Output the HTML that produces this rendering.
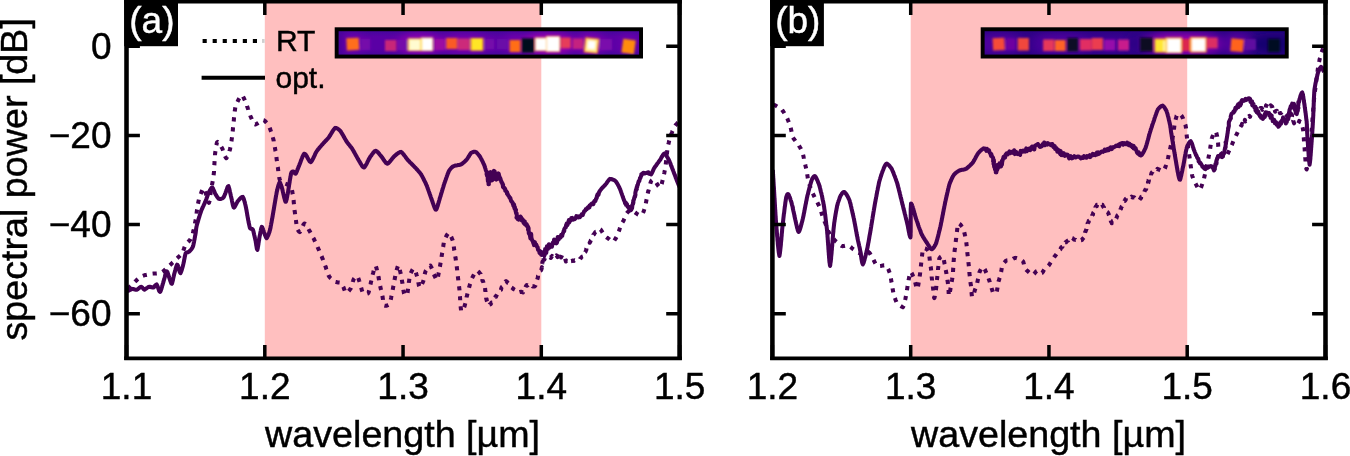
<!DOCTYPE html>
<html><head><meta charset="utf-8"><title>fig</title>
<style>
html,body{margin:0;padding:0;background:#fff;}
body{width:1350px;height:456px;overflow:hidden;font-family:"Liberation Sans",sans-serif;}
svg{display:block;will-change:transform}
text{font-family:"Liberation Sans",sans-serif;fill:#000;stroke:#000;stroke-width:0.45px}
</style></head><body>
<svg width="1350" height="456" viewBox="0 0 1350 456">
<defs>
<filter id="bl1" x="-5%" y="-50%" width="110%" height="200%"><feGaussianBlur stdDeviation="1.25"/></filter>
<filter id="bl3" x="-20%" y="-100%" width="140%" height="300%"><feGaussianBlur stdDeviation="4"/></filter>
<linearGradient id="bgA" x1="0" y1="0" x2="0" y2="1"><stop offset="0" stop-color="#3a0a96"/><stop offset="0.3" stop-color="#5a00a5"/><stop offset="0.7" stop-color="#5a00a5"/><stop offset="1" stop-color="#3a0a96"/></linearGradient>
<linearGradient id="bgB" x1="0" y1="0" x2="0" y2="1"><stop offset="0" stop-color="#24037c"/><stop offset="0.35" stop-color="#3a0093"/><stop offset="0.7" stop-color="#3a0093"/><stop offset="1" stop-color="#24037c"/></linearGradient>
</defs>
<rect width="1350" height="456" fill="#fff"/>

<rect x="264.8" y="1" width="276.49999999999994" height="357.5" fill="#ffbfbf"/>
<path d="M202.6,40.9 H261" stroke="#000" stroke-width="4.05" stroke-dasharray="4.15 5.9" fill="none"/>
<rect x="262" y="39" width="2.6" height="3.9" fill="#d0d0d0"/>
<path d="M201.6,77.7 H265" stroke="#000" stroke-width="4.05" fill="none"/>
<text x="276" y="51.3" font-size="30">RT</text>
<text x="275.5" y="87.6" font-size="30">opt.</text>
<clipPath id="axA"><rect x="126.5" y="1" width="553.1" height="357"/></clipPath>
<g clip-path="url(#axA)" fill="none" stroke="#440154" stroke-width="4.05" stroke-linejoin="round">
<path d="M127.8,288.9 L128.4,288.3 L129.1,287.6 L129.7,287.0 L130.3,286.3 L130.9,285.7 L131.6,285.0 L132.2,284.4 L132.8,283.7 L133.5,283.1 L134.1,282.5 L134.8,281.9 L135.4,281.3 L136.1,280.7 L136.8,280.0 L137.4,279.4 L138.1,278.8 L138.8,278.3 L139.5,277.7 L140.2,277.1 L141.0,276.6 L141.7,276.2 L142.6,275.9 L143.4,275.6 L144.3,275.3 L145.2,275.1 L146.0,274.9 L146.9,274.7 L147.8,274.5 L148.7,274.3 L149.6,274.1 L150.4,273.9 L151.3,273.8 L152.2,273.7 L153.1,273.6 L154.0,273.5 L154.9,273.5 L155.8,273.4 L156.7,273.4 L157.6,273.3 L158.5,273.2 L159.4,273.1 L160.3,272.9 L161.1,272.7 L161.9,272.2 L162.7,271.7 L163.4,271.1 L164.1,270.6 L164.7,270.0 L165.4,269.4 L166.1,268.8 L166.7,268.2 L167.4,267.5 L168.1,266.9 L168.7,266.3 L169.4,265.7 L170.1,265.1 L170.7,264.5 L171.4,263.9 L172.0,263.2 L172.6,262.6 L173.3,262.0 L173.9,261.3 L174.6,260.7 L175.2,260.1 L175.9,259.4 L176.5,258.8 L177.2,258.2 L177.8,257.6 L178.5,257.0 L179.2,256.4 L179.9,255.8 L180.5,255.2 L181.1,254.5 L181.7,253.9 L182.3,253.1 L182.6,252.3 L183.0,251.5 L183.3,250.7 L183.6,249.8 L183.9,249.0 L184.2,248.1 L184.5,247.2 L184.8,246.4 L185.1,245.6 L185.5,244.7 L185.9,244.0 L186.5,243.3 L187.2,242.7 L187.9,242.1 L188.5,241.5 L189.2,240.9 L189.8,240.2 L190.3,239.5 L190.7,238.7 L191.1,237.9 L191.5,237.0 L191.8,236.2 L192.2,235.4 L192.5,234.5 L192.8,233.7 L193.0,232.8 L193.2,231.9 L193.4,231.1 L193.6,230.2 L193.8,229.3 L194.0,228.4 L194.2,227.5 L194.4,226.7 L194.5,225.8 L194.7,224.9 L194.9,224.0 L195.0,223.1 L195.2,222.2 L195.4,221.3 L195.5,220.5 L195.7,219.6 L195.9,218.7 L196.0,217.8 L196.2,216.9 L196.3,216.0 L196.4,215.1 L196.5,214.2 L196.6,213.3 L196.7,212.4 L196.8,211.5 L196.9,210.7 L197.0,209.8 L197.2,208.9 L197.3,208.0 L197.4,207.1 L197.6,206.2 L197.7,205.3 L197.9,204.4 L198.1,203.5 L198.2,202.7 L198.4,201.8 L198.6,200.9 L198.8,200.0 L199.0,199.1 L199.2,198.3 L199.4,197.4 L199.7,196.5 L200.0,195.7 L200.4,194.8 L200.7,194.0 L201.0,193.2 L201.3,192.3 L201.7,191.5 L202.0,190.7 L202.4,189.8 L202.8,189.0 L203.3,188.3 L203.9,188.8 L204.3,189.6 L204.7,190.4 L205.0,191.2 L205.3,192.1 L205.6,192.9 L205.9,193.8 L206.2,194.6 L206.5,195.5 L206.7,196.3 L207.0,197.2 L207.2,198.1 L207.5,198.9 L207.7,199.8 L208.0,200.7 L208.3,201.5 L208.6,202.3 L209.0,202.9 L209.2,202.0 L209.5,201.1 L209.6,200.2 L209.7,199.3 L209.9,198.4 L210.0,197.5 L210.1,196.7 L210.2,195.8 L210.3,194.9 L210.5,194.0 L210.6,193.1 L210.7,192.2 L210.8,191.3 L210.9,190.4 L211.1,189.5 L211.3,188.6 L211.4,187.7 L211.6,186.9 L211.8,186.0 L212.0,185.1 L212.1,184.2 L212.3,183.3 L212.5,182.4 L212.6,181.6 L212.8,180.7 L212.9,179.8 L213.1,178.9 L213.2,178.0 L213.4,177.1 L213.5,176.2 L213.6,175.3 L213.7,174.4 L213.8,173.5 L213.9,172.6 L214.0,171.7 L214.0,170.8 L214.1,169.9 L214.1,169.0 L214.2,168.1 L214.2,167.2 L214.3,166.3 L214.3,165.4 L214.4,164.5 L214.4,163.6 L214.5,162.7 L214.5,161.9 L214.6,161.0 L214.7,160.1 L214.7,159.2 L214.8,158.3 L214.8,157.4 L214.9,156.5 L215.0,155.6 L215.0,154.7 L215.1,153.8 L215.2,152.9 L215.3,152.0 L215.5,151.1 L215.6,150.2 L215.7,149.3 L215.8,148.4 L216.0,147.5 L216.1,146.6 L216.2,145.7 L216.4,144.9 L216.6,144.0 L216.8,143.1 L217.1,142.2 L217.6,141.9 L218.3,142.4 L218.9,143.1 L219.4,143.8 L219.9,144.6 L220.4,145.3 L220.9,146.1 L221.3,146.9 L221.8,147.6 L222.2,148.4 L222.6,149.2 L222.9,150.1 L223.2,150.9 L223.5,151.8 L223.8,152.6 L224.1,153.5 L224.4,154.3 L224.7,155.2 L225.0,156.0 L225.4,156.9 L225.8,157.6 L226.3,158.2 L226.8,157.5 L227.3,156.7 L227.7,155.9 L228.0,155.1 L228.3,154.2 L228.7,153.4 L229.0,152.5 L229.3,151.7 L229.5,150.8 L229.8,150.0 L230.1,149.1 L230.2,148.2 L230.4,147.3 L230.6,146.5 L230.7,145.6 L230.9,144.7 L231.0,143.8 L231.2,142.9 L231.3,142.0 L231.5,141.1 L231.6,140.2 L231.7,139.3 L231.8,138.4 L232.0,137.6 L232.1,136.7 L232.2,135.8 L232.3,134.9 L232.4,134.0 L232.5,133.1 L232.6,132.2 L232.7,131.3 L232.8,130.4 L232.9,129.5 L232.9,128.6 L233.0,127.7 L233.1,126.8 L233.2,125.9 L233.3,125.0 L233.4,124.1 L233.5,123.2 L233.6,122.3 L233.7,121.4 L233.8,120.5 L233.9,119.6 L233.9,118.7 L234.0,117.8 L234.1,116.9 L234.2,116.1 L234.3,115.2 L234.4,114.3 L234.5,113.4 L234.6,112.5 L234.7,111.6 L234.8,110.7 L235.0,109.8 L235.1,108.9 L235.2,108.0 L235.4,107.1 L235.6,106.2 L235.8,105.4 L236.2,104.6 L236.5,103.7 L236.9,102.9 L237.3,102.1 L237.7,101.3 L238.1,100.5 L238.5,99.7 L238.9,98.9 L239.4,98.1 L239.9,97.4 L240.4,96.6 L240.9,95.9 L241.6,95.3 L242.2,95.4 L242.8,96.1 L243.2,96.9 L243.6,97.7 L244.0,98.5 L244.4,99.3 L244.7,100.1 L245.1,101.0 L245.4,101.8 L245.7,102.6 L246.1,103.5 L246.4,104.3 L246.8,105.1 L247.0,106.0 L247.3,106.8 L247.6,107.7 L247.9,108.6 L248.2,109.4 L248.4,110.3 L248.7,111.1 L249.0,112.0 L249.2,112.9 L249.5,113.7 L249.8,114.6 L250.2,115.4 L250.5,116.2 L250.9,117.1 L251.2,117.9 L251.6,118.7 L251.9,119.5 L252.3,120.4 L252.7,121.2 L253.1,122.0 L253.5,122.8 L254.0,123.5 L254.6,124.2 L255.3,124.5 L256.1,124.2 L256.9,123.8 L257.7,123.3 L258.5,122.8 L259.2,122.3 L259.9,121.8 L260.6,121.3 L261.4,120.8 L262.2,120.4 L263.0,120.0 L263.8,120.2 L264.6,120.7 L265.2,121.3 L265.9,122.0 L266.4,122.7 L267.0,123.4 L267.5,124.1 L268.0,124.8 L268.5,125.6 L269.0,126.3 L269.4,127.2 L269.7,128.0 L270.1,128.8 L270.4,129.7 L270.7,130.5 L271.0,131.4 L271.3,132.2 L271.6,133.1 L271.9,133.9 L272.2,134.8 L272.4,135.6 L272.7,136.5 L272.9,137.4 L273.1,138.2 L273.3,139.1 L273.5,140.0 L273.7,140.9 L273.8,141.8 L274.0,142.7 L274.2,143.5 L274.3,144.4 L274.5,145.3 L274.7,146.2 L274.8,147.1 L275.0,148.0 L275.1,148.9 L275.3,149.8 L275.4,150.6 L275.6,151.5 L275.7,152.4 L275.8,153.3 L276.0,154.2 L276.1,155.1 L276.2,156.0 L276.4,156.9 L276.5,157.8 L276.6,158.7 L276.7,159.6 L276.8,160.4 L277.0,161.3 L277.1,162.2 L277.2,163.1 L277.3,164.0 L277.5,164.9 L277.6,165.8 L277.7,166.7 L277.9,167.6 L278.0,168.5 L278.1,169.4 L278.2,170.3 L278.3,171.2 L278.5,172.0 L278.6,172.9 L278.7,173.8 L278.8,174.7 L278.9,175.6 L279.1,176.5 L279.2,177.4 L279.4,178.3 L279.6,179.2 L279.9,180.0 L280.2,180.8 L280.8,181.5 L281.6,182.0 L282.3,182.5 L283.2,182.8 L284.0,183.1 L284.8,183.5 L285.7,183.8 L286.5,184.2 L287.3,184.5 L288.2,184.8 L289.0,185.1 L289.8,185.5 L290.5,186.1 L291.1,186.8 L291.3,187.6 L291.6,188.5 L291.8,189.4 L292.0,190.2 L292.2,191.1 L292.3,192.0 L292.5,192.9 L292.6,193.8 L292.8,194.7 L292.9,195.6 L293.1,196.5 L293.2,197.3 L293.4,198.2 L293.5,199.1 L293.6,200.0 L293.7,200.9 L293.7,201.8 L293.8,202.7 L293.9,203.6 L294.0,204.5 L294.1,205.4 L294.1,206.3 L294.2,207.2 L294.3,208.1 L294.4,209.0 L294.5,209.9 L294.6,210.8 L294.8,211.7 L294.9,212.6 L295.0,213.5 L295.1,214.3 L295.2,215.2 L295.4,216.1 L295.5,217.0 L295.6,217.9 L295.7,218.8 L295.9,219.7 L296.0,220.6 L296.1,221.5 L296.2,222.4 L296.3,223.3 L296.4,224.2 L296.5,225.1 L296.7,226.0 L296.8,226.8 L297.0,227.7 L297.3,228.6 L297.6,229.4 L298.0,230.2 L298.5,231.0 L299.1,231.7 L299.8,232.1 L300.3,231.6 L300.8,230.8 L301.2,230.0 L301.5,229.1 L301.9,228.3 L302.2,227.5 L302.5,226.6 L302.9,225.8 L303.3,225.0 L303.7,224.2 L304.3,223.5 L304.9,223.7 L305.5,224.3 L306.1,225.1 L306.6,225.8 L307.0,226.6 L307.5,227.4 L307.9,228.2 L308.4,228.9 L308.8,229.7 L309.3,230.5 L309.7,231.3 L310.2,232.1 L310.6,232.8 L311.0,233.6 L311.5,234.4 L311.9,235.2 L312.3,236.0 L312.7,236.8 L313.1,237.6 L313.6,238.4 L314.0,239.2 L314.4,240.0 L314.7,240.9 L315.1,241.7 L315.5,242.5 L315.9,243.3 L316.2,244.1 L316.6,244.9 L317.0,245.8 L317.4,246.6 L317.7,247.4 L318.1,248.2 L318.5,249.1 L318.8,249.9 L319.2,250.7 L319.5,251.5 L319.9,252.4 L320.3,253.2 L320.6,254.0 L321.0,254.8 L321.3,255.7 L321.7,256.5 L322.0,257.3 L322.3,258.2 L322.7,259.0 L323.0,259.8 L323.3,260.7 L323.7,261.5 L324.0,262.4 L324.3,263.2 L324.6,264.1 L324.9,264.9 L325.2,265.7 L325.6,266.6 L325.8,267.4 L326.1,268.3 L326.4,269.2 L326.7,270.0 L326.9,270.9 L327.2,271.7 L327.5,272.6 L327.8,273.4 L328.1,274.3 L328.4,275.1 L328.8,275.9 L329.3,276.7 L329.9,277.4 L330.5,278.0 L331.2,278.6 L331.8,279.2 L332.5,279.8 L333.2,280.4 L333.9,280.9 L334.6,281.5 L335.4,281.9 L336.3,282.1 L337.2,282.3 L338.1,282.4 L339.0,282.5 L339.9,282.6 L340.7,282.9 L341.5,283.3 L342.0,284.0 L342.4,284.8 L342.8,285.6 L343.1,286.5 L343.5,287.3 L343.8,288.1 L344.1,289.0 L344.5,289.8 L344.8,290.7 L345.2,291.5 L345.6,292.3 L346.1,292.9 L347.0,292.6 L347.7,292.0 L348.4,291.4 L349.0,290.7 L349.5,290.0 L350.1,289.3 L350.6,288.6 L351.0,287.7 L351.3,286.9 L351.6,286.0 L351.8,285.2 L352.1,284.3 L352.3,283.5 L352.6,282.6 L352.8,281.7 L353.1,280.9 L353.4,280.0 L353.7,279.2 L354.2,278.4 L354.7,277.7 L355.3,277.0 L356.0,276.5 L356.8,276.1 L357.5,276.4 L357.9,277.2 L358.2,278.0 L358.6,278.9 L358.8,279.7 L359.1,280.6 L359.4,281.4 L359.7,282.3 L359.9,283.1 L360.2,284.0 L360.4,284.9 L360.7,285.7 L360.9,286.6 L361.1,287.5 L361.4,288.4 L361.6,289.2 L361.8,290.1 L362.1,290.9 L362.4,291.8 L362.8,292.6 L363.4,293.2 L364.2,293.5 L365.1,293.8 L366.0,293.8 L366.9,293.8 L367.8,293.5 L368.4,292.9 L368.7,292.1 L368.9,291.2 L369.2,290.3 L369.4,289.5 L369.6,288.6 L369.8,287.7 L369.9,286.8 L370.1,285.9 L370.3,285.0 L370.5,284.2 L370.7,283.3 L370.9,282.4 L371.1,281.5 L371.3,280.7 L371.5,279.8 L371.7,278.9 L371.9,278.0 L372.1,277.1 L372.3,276.3 L372.5,275.4 L372.7,274.5 L372.9,273.6 L373.2,272.8 L373.4,271.9 L373.7,271.0 L373.9,270.2 L374.1,269.3 L374.4,268.4 L374.7,267.6 L375.0,266.7 L375.4,265.9 L375.8,266.1 L376.1,266.9 L376.4,267.8 L376.6,268.6 L376.8,269.5 L377.0,270.4 L377.2,271.3 L377.4,272.2 L377.6,273.0 L377.8,273.9 L378.0,274.8 L378.2,275.7 L378.4,276.6 L378.6,277.4 L378.7,278.3 L378.9,279.2 L379.1,280.1 L379.2,281.0 L379.4,281.9 L379.6,282.7 L379.7,283.6 L379.9,284.5 L380.1,285.4 L380.3,286.3 L380.4,287.2 L380.6,288.0 L380.8,288.9 L381.0,289.8 L381.2,290.7 L381.4,291.6 L381.6,292.4 L381.8,293.3 L382.0,294.2 L382.2,295.1 L382.4,296.0 L382.5,296.8 L382.7,297.7 L382.8,298.6 L383.0,299.5 L383.1,300.4 L383.3,301.3 L383.4,302.2 L383.6,303.1 L383.8,303.9 L384.1,304.8 L384.4,305.6 L385.3,305.8 L386.2,305.7 L387.1,305.5 L387.9,305.1 L388.7,304.7 L389.4,304.2 L389.8,303.4 L390.1,302.5 L390.3,301.7 L390.6,300.8 L390.7,299.9 L390.9,299.0 L391.1,298.1 L391.2,297.3 L391.4,296.4 L391.6,295.5 L391.8,294.6 L391.9,293.7 L392.1,292.8 L392.3,292.0 L392.5,291.1 L392.6,290.2 L392.8,289.3 L393.0,288.4 L393.1,287.5 L393.3,286.6 L393.5,285.8 L393.6,284.9 L393.8,284.0 L394.0,283.1 L394.1,282.2 L394.3,281.3 L394.4,280.4 L394.6,279.6 L394.8,278.7 L394.9,277.8 L395.1,276.9 L395.3,276.0 L395.4,275.1 L395.6,274.3 L395.9,273.4 L396.1,272.5 L396.3,271.6 L396.5,270.8 L396.7,269.9 L397.0,269.0 L397.2,268.1 L397.5,267.3 L397.8,266.4 L398.1,265.6 L398.5,265.4 L398.9,266.2 L399.1,267.1 L399.4,268.0 L399.6,268.8 L399.8,269.7 L400.0,270.6 L400.2,271.5 L400.4,272.3 L400.6,273.2 L400.8,274.1 L401.0,275.0 L401.1,275.9 L401.3,276.8 L401.5,277.6 L401.6,278.5 L401.8,279.4 L401.9,280.3 L402.1,281.2 L402.2,282.1 L402.4,283.0 L402.5,283.9 L402.6,284.7 L402.8,285.6 L402.9,286.5 L403.1,287.4 L403.2,288.3 L403.3,289.2 L403.4,290.1 L403.6,291.0 L403.7,291.9 L403.9,292.8 L404.0,293.6 L404.3,294.5 L404.7,295.2 L405.5,295.4 L406.3,295.0 L407.0,294.4 L407.4,293.6 L407.6,292.7 L407.7,291.8 L407.8,290.9 L407.9,290.0 L408.0,289.1 L408.1,288.3 L408.2,287.4 L408.3,286.5 L408.5,285.6 L408.6,284.7 L408.7,283.8 L408.8,282.9 L408.9,282.0 L409.1,281.1 L409.2,280.2 L409.3,279.3 L409.4,278.4 L409.6,277.5 L409.7,276.7 L409.9,275.8 L410.1,274.9 L410.4,274.0 L410.7,273.2 L411.1,272.4 L411.5,271.6 L411.9,270.8 L412.3,270.0 L412.8,269.2 L413.5,268.6 L414.0,268.7 L414.5,269.4 L414.9,270.3 L415.2,271.1 L415.6,271.9 L415.9,272.8 L416.2,273.6 L416.5,274.5 L416.7,275.3 L417.0,276.2 L417.3,277.1 L417.5,277.9 L417.7,278.8 L417.8,279.7 L418.0,280.6 L418.2,281.5 L418.3,282.4 L418.5,283.2 L418.7,284.1 L418.8,285.0 L419.0,285.9 L419.3,286.7 L419.6,287.6 L420.3,287.0 L420.8,286.3 L421.2,285.5 L421.7,284.7 L422.1,283.9 L422.4,283.1 L422.8,282.3 L423.2,281.4 L423.4,280.6 L423.7,279.7 L423.9,278.8 L424.0,277.9 L424.2,277.1 L424.4,276.2 L424.6,275.3 L424.7,274.4 L424.9,273.5 L425.1,272.7 L425.4,271.8 L425.7,270.9 L426.2,270.2 L426.7,269.4 L427.2,268.7 L427.7,267.9 L428.3,267.2 L428.9,266.6 L429.6,266.0 L430.4,265.6 L430.8,266.3 L431.3,267.1 L431.6,268.0 L432.0,268.8 L432.3,269.6 L432.6,270.5 L432.9,271.3 L433.2,272.2 L433.4,273.0 L433.7,273.9 L434.1,274.7 L434.4,275.6 L434.8,276.4 L435.2,277.2 L435.6,278.0 L436.0,278.8 L436.5,279.6 L437.1,279.9 L437.4,279.0 L437.7,278.2 L437.9,277.3 L438.1,276.4 L438.2,275.5 L438.4,274.6 L438.6,273.8 L438.7,272.9 L438.9,272.0 L439.1,271.1 L439.3,270.2 L439.4,269.3 L439.6,268.4 L439.7,267.6 L439.9,266.7 L440.1,265.8 L440.2,264.9 L440.4,264.0 L440.5,263.1 L440.7,262.2 L440.8,261.3 L441.0,260.5 L441.1,259.6 L441.3,258.7 L441.4,257.8 L441.6,256.9 L441.7,256.0 L441.8,255.1 L442.0,254.2 L442.1,253.3 L442.3,252.5 L442.4,251.6 L442.6,250.7 L442.7,249.8 L442.9,248.9 L443.0,248.0 L443.1,247.1 L443.3,246.2 L443.4,245.3 L443.5,244.4 L443.7,243.6 L443.8,242.7 L444.0,241.8 L444.2,240.9 L444.4,240.0 L444.8,239.2 L445.1,238.4 L445.6,237.6 L446.0,236.8 L446.4,236.0 L446.8,235.2 L447.3,234.5 L447.9,233.7 L448.5,233.1 L449.1,233.0 L449.7,233.7 L450.1,234.4 L450.5,235.2 L450.9,236.1 L451.3,236.9 L451.6,237.7 L451.9,238.6 L452.3,239.4 L452.6,240.2 L452.9,241.1 L453.1,242.0 L453.3,242.8 L453.4,243.7 L453.5,244.6 L453.7,245.5 L453.8,246.4 L453.9,247.3 L454.0,248.2 L454.1,249.1 L454.2,250.0 L454.4,250.9 L454.5,251.8 L454.6,252.7 L454.8,253.5 L454.9,254.4 L455.1,255.3 L455.2,256.2 L455.4,257.1 L455.5,258.0 L455.7,258.9 L455.8,259.8 L455.9,260.7 L456.1,261.6 L456.2,262.4 L456.3,263.3 L456.4,264.2 L456.5,265.1 L456.7,266.0 L456.8,266.9 L456.9,267.8 L457.0,268.7 L457.1,269.6 L457.2,270.5 L457.3,271.4 L457.4,272.3 L457.5,273.2 L457.6,274.1 L457.7,275.0 L457.8,275.9 L457.9,276.8 L458.0,277.6 L458.1,278.5 L458.2,279.4 L458.3,280.3 L458.4,281.2 L458.5,282.1 L458.6,283.0 L458.8,283.9 L458.9,284.8 L459.0,285.7 L459.1,286.6 L459.2,287.5 L459.3,288.4 L459.4,289.3 L459.5,290.2 L459.6,291.1 L459.7,292.0 L459.7,292.9 L459.8,293.8 L459.9,294.7 L459.9,295.6 L460.0,296.5 L460.0,297.4 L460.1,298.3 L460.1,299.2 L460.2,300.1 L460.2,301.0 L460.3,301.9 L460.3,302.8 L460.4,303.7 L460.5,304.5 L460.5,305.4 L460.6,306.3 L460.7,307.2 L460.8,308.1 L460.9,309.0 L461.0,309.9 L461.1,310.8 L461.7,311.2 L462.4,310.6 L462.8,309.8 L463.3,309.0 L463.7,308.2 L464.1,307.4 L464.4,306.6 L464.7,305.7 L464.9,304.8 L465.1,304.0 L465.3,303.1 L465.5,302.2 L465.7,301.3 L465.9,300.5 L466.1,299.6 L466.3,298.7 L466.5,297.8 L466.6,296.9 L466.9,296.1 L467.1,295.2 L467.3,294.3 L467.5,293.4 L467.7,292.6 L468.0,291.7 L468.2,290.8 L468.4,289.9 L468.7,289.1 L468.9,288.2 L469.1,287.3 L469.4,286.5 L469.6,285.6 L469.9,284.7 L470.1,283.9 L470.4,283.0 L470.7,282.2 L470.9,281.3 L471.2,280.4 L471.5,279.6 L471.8,278.8 L472.2,277.9 L472.6,277.1 L473.0,276.3 L473.4,275.5 L473.9,274.7 L474.3,274.0 L474.8,273.2 L475.3,272.4 L475.8,271.7 L476.4,271.0 L477.1,270.8 L477.9,271.2 L478.6,271.8 L479.2,272.4 L479.8,273.2 L480.6,273.9 L480.9,275.0 L481.3,275.1 L481.3,276.6 L481.3,277.7 L482.0,278.2 L482.5,278.6 L482.4,280.3 L482.4,280.8 L483.1,281.4 L483.4,282.6 L483.6,283.7 L483.7,283.8 L484.1,285.1 L483.8,286.1 L484.3,287.2 L484.9,287.2 L485.1,288.5 L485.2,289.6 L485.2,290.4 L485.5,291.5 L485.5,292.2 L485.5,293.1 L486.2,293.9 L486.1,294.4 L486.0,296.0 L486.1,296.5 L486.1,296.9 L486.2,298.6 L486.7,299.4 L486.6,300.2 L486.7,300.5 L487.3,302.0 L486.8,302.6 L487.7,303.9 L487.5,304.1 L488.0,305.2 L488.7,305.2 L489.4,304.7 L489.6,304.4 L490.7,304.2 L491.1,303.2 L491.6,302.5 L492.4,302.4 L493.0,301.4 L493.3,300.9 L493.7,299.5 L494.0,298.6 L494.4,298.6 L495.2,296.9 L496.0,296.8 L495.8,296.2 L496.7,295.3 L497.2,294.4 L497.9,293.5 L498.1,292.7 L498.6,291.8 L499.2,291.4 L500.1,290.8 L500.7,289.8 L501.1,289.7 L501.1,288.9 L501.6,287.4 L501.9,286.9 L502.6,286.4 L502.7,285.3 L503.5,284.3 L504.0,284.0 L504.2,282.9 L504.5,282.3 L505.1,281.7 L506.0,281.1 L507.0,281.9 L507.2,282.2 L508.1,283.2 L508.9,283.5 L509.3,284.7 L510.0,285.0 L510.7,286.3 L510.7,286.2 L511.3,287.3 L512.6,288.1 L512.9,288.7 L513.3,288.9 L514.4,289.5 L515.0,289.8 L515.5,290.9 L516.9,291.3 L517.3,291.3 L518.6,291.6 L518.9,292.3 L519.6,292.1 L521.2,291.8 L521.6,291.9 L523.0,292.5 L523.2,291.7 L523.9,291.0 L523.8,290.0 L524.2,288.8 L524.9,288.7 L525.4,287.4 L525.7,286.7 L526.1,285.9 L526.7,285.0 L527.6,285.4 L527.9,285.1 L528.7,284.0 L529.7,284.0 L530.8,284.5 L531.4,285.5 L531.9,285.5 L532.7,286.5 L533.6,286.3 L534.4,286.5 L535.0,286.1 L535.6,285.2 L536.1,284.0 L536.5,283.3 L536.5,282.6 L537.2,281.5 L536.9,280.5 L537.2,279.6 L537.3,279.2 L537.8,277.8 L538.0,276.9 L537.9,276.1 L538.0,276.0 L538.0,275.1 L538.3,273.7 L538.4,272.6 L538.9,271.9 L539.3,271.6 L540.3,270.7 L541.0,270.4 L541.4,269.5 L542.0,267.1 L542.1,268.4 L541.8,266.9 L542.2,265.6 L541.9,265.3 L542.2,263.8 L542.5,261.6 L542.6,263.5 L542.3,260.7 L542.5,259.7 L543.3,258.1 L543.6,259.5 L544.4,259.7 L544.9,258.1 L546.3,259.1 L547.0,257.5 L547.5,257.6 L548.5,257.3 L549.7,257.2 L550.9,257.9 L551.5,257.0 L552.1,256.0 L553.4,257.9 L553.8,256.5 L555.1,256.6 L555.8,255.8 L556.4,255.3 L557.6,257.1 L558.5,256.3 L559.8,257.9 L560.5,254.9 L561.1,257.5 L562.2,255.0 L562.8,255.6 L563.9,255.6 L564.4,257.8 L565.0,258.0 L565.1,258.7 L565.9,261.5 L566.6,260.7 L567.2,261.2 L567.8,262.6 L568.6,262.7 L569.7,262.1 L570.3,262.1 L570.9,261.2 L571.7,261.1 L572.4,260.5 L573.7,260.9 L574.7,260.3 L575.4,260.5 L575.9,260.0 L577.3,259.2 L578.2,259.3 L578.8,259.4 L579.7,259.5 L580.1,258.7 L581.1,257.7 L581.3,257.4 L582.1,256.6 L583.0,256.3 L583.4,255.1 L583.7,253.7 L584.6,254.1 L584.8,252.3 L585.5,251.8 L585.5,251.7 L586.0,250.5 L586.4,249.7 L586.3,248.6 L586.7,247.7 L587.1,246.8 L587.6,246.5 L588.6,245.3 L588.8,244.2 L589.2,243.5 L589.8,242.6 L589.7,242.7 L590.5,241.2 L590.8,240.3 L591.1,240.0 L591.8,238.8 L592.2,238.6 L592.4,237.6 L592.8,236.7 L593.3,235.7 L593.3,234.8 L594.2,234.1 L594.3,233.6 L595.3,232.2 L595.8,231.8 L596.3,231.7 L597.3,231.1 L597.6,230.3 L598.1,229.4 L599.1,228.9 L599.8,229.0 L600.6,229.5 L601.1,230.2 L601.6,230.9 L602.1,231.7 L602.5,232.5 L603.0,233.3 L603.4,234.1 L603.9,234.8 L604.4,235.6 L605.0,236.2 L605.7,236.7 L606.5,237.3 L607.2,237.8 L608.0,238.3 L608.7,238.8 L609.4,239.3 L610.1,239.9 L610.8,240.5 L611.5,241.1 L612.3,241.5 L613.1,241.8 L613.8,241.3 L614.3,240.6 L614.8,239.8 L615.3,239.0 L615.8,238.3 L616.2,237.5 L616.6,236.7 L617.0,235.9 L617.5,235.1 L617.8,234.3 L618.2,233.4 L618.5,232.6 L618.7,231.7 L619.0,230.9 L619.3,230.0 L619.6,229.1 L619.8,228.3 L620.1,227.4 L620.4,226.6 L620.7,225.7 L620.9,224.9 L621.3,224.0 L621.8,223.3 L622.3,222.5 L622.8,221.8 L623.3,221.1 L623.7,220.2 L624.0,219.4 L624.4,218.6 L624.7,217.7 L625.0,216.9 L625.4,216.1 L625.7,215.2 L626.1,214.4 L626.5,213.6 L627.1,212.9 L627.6,212.2 L628.3,211.6 L628.9,211.0 L629.7,210.5 L630.5,210.1 L631.4,210.1 L632.2,210.6 L633.0,211.0 L633.7,211.5 L634.5,212.0 L635.2,212.5 L635.9,213.0 L636.7,213.6 L637.4,214.1 L638.1,214.6 L638.9,215.0 L639.7,215.4 L640.6,215.4 L641.3,215.0 L641.9,214.3 L642.5,213.6 L642.9,212.8 L643.4,212.0 L643.7,211.2 L644.0,210.3 L644.2,209.5 L644.5,208.6 L644.7,207.7 L645.0,206.9 L645.2,206.0 L645.4,205.1 L645.6,204.3 L645.8,203.4 L646.0,202.5 L646.2,201.6 L646.3,200.7 L646.5,199.8 L646.7,199.0 L646.8,198.1 L647.0,197.2 L647.2,196.3 L647.4,195.4 L647.5,194.5 L647.7,193.7 L647.9,192.8 L648.1,191.9 L648.4,191.0 L648.6,190.2 L648.8,189.3 L649.0,188.4 L649.2,187.5 L649.5,186.7 L649.7,185.8 L649.9,184.9 L650.2,184.1 L650.4,183.2 L650.7,182.3 L651.0,181.5 L651.4,180.7 L652.1,180.1 L652.9,179.8 L653.8,179.8 L654.6,180.2 L655.1,180.9 L655.6,181.7 L656.1,182.4 L656.6,183.2 L657.0,184.0 L657.5,184.7 L658.0,185.5 L658.5,186.2 L659.1,186.9 L659.7,187.6 L660.3,187.3 L660.7,186.6 L661.0,185.7 L661.4,184.9 L661.6,184.0 L661.9,183.2 L662.1,182.3 L662.3,181.4 L662.6,180.5 L662.8,179.7 L663.0,178.8 L663.3,177.9 L663.5,177.1 L663.7,176.2 L663.8,175.3 L664.0,174.4 L664.2,173.5 L664.4,172.6 L664.5,171.8 L664.7,170.9 L664.9,170.0 L665.0,169.1 L665.2,168.2 L665.3,167.3 L665.5,166.4 L665.6,165.5 L665.7,164.6 L665.8,163.8 L665.9,162.9 L666.0,162.0 L666.1,161.1 L666.2,160.2 L666.3,159.3 L666.4,158.4 L666.5,157.5 L666.6,156.6 L666.7,155.7 L666.8,154.8 L666.9,153.9 L667.0,153.0 L667.1,152.1 L667.2,151.2 L667.3,150.3 L667.4,149.4 L667.6,148.5 L667.7,147.6 L667.8,146.8 L668.0,145.9 L668.2,145.0 L668.4,144.1 L668.6,143.2 L668.8,142.4 L669.0,141.5 L669.2,140.6 L669.5,139.8 L669.7,138.9 L670.0,138.0 L670.3,137.2 L670.5,136.3 L670.8,135.5 L671.2,134.6 L671.5,133.8 L671.8,132.9 L672.1,132.1 L672.4,131.2 L672.8,130.4 L673.1,129.6 L673.5,128.7 L673.8,127.9 L674.2,127.1 L674.7,126.3 L675.2,125.6 L675.8,124.9 L676.4,124.2 L677.0,123.6 L677.6,122.9 L678.3,122.3 L678.9,121.7 L679.5,121.0" stroke-dasharray="4.15 5.9"/>
<path d="M127.5,291.3 L128.3,290.9 L129.1,290.4 L129.9,290.0 L130.7,289.6 L131.5,289.2 L132.3,288.9 L133.2,289.0 L134.1,289.3 L134.9,289.5 L135.8,289.7 L136.7,289.8 L137.5,289.3 L138.2,288.8 L138.9,288.2 L139.6,287.6 L140.3,287.1 L141.1,286.7 L141.9,287.2 L142.5,287.8 L143.1,288.5 L143.7,289.2 L144.5,289.6 L145.3,289.2 L146.0,288.7 L146.7,288.1 L147.5,287.6 L148.2,287.1 L149.0,286.7 L149.9,286.8 L150.8,287.0 L151.6,287.3 L152.5,287.5 L153.4,287.5 L154.1,287.0 L154.6,286.3 L155.2,285.5 L155.8,284.9 L156.6,284.4 L157.0,285.1 L157.4,285.9 L157.7,286.7 L158.0,287.6 L158.3,288.4 L158.6,289.3 L158.9,290.1 L159.2,291.0 L159.7,291.8 L160.2,291.9 L160.6,291.1 L160.9,290.2 L161.2,289.4 L161.5,288.5 L161.7,287.7 L162.0,286.8 L162.2,285.9 L162.5,285.1 L162.7,284.2 L163.0,283.3 L163.2,282.5 L163.5,281.6 L163.7,280.7 L164.0,279.9 L164.2,279.0 L164.5,278.1 L164.7,277.3 L164.9,276.4 L165.2,275.5 L165.4,274.7 L165.7,273.8 L166.0,272.9 L166.3,272.1 L166.6,271.3 L167.2,271.7 L167.5,272.5 L167.9,273.3 L168.1,274.2 L168.4,275.0 L168.7,275.9 L168.9,276.7 L169.2,277.6 L169.5,278.4 L169.8,279.3 L170.1,280.2 L170.4,281.0 L170.7,281.9 L171.0,282.7 L171.4,283.5 L171.9,283.8 L172.2,282.9 L172.4,282.0 L172.6,281.2 L172.9,280.3 L173.0,279.4 L173.2,278.5 L173.4,277.6 L173.6,276.8 L173.8,275.9 L174.0,275.0 L174.2,274.1 L174.4,273.3 L174.7,272.4 L174.9,271.5 L175.1,270.7 L175.4,269.8 L175.6,268.9 L175.9,268.0 L176.1,267.2 L176.4,266.3 L176.7,265.5 L177.1,264.7 L177.5,264.9 L177.9,265.7 L178.2,266.6 L178.5,267.4 L178.7,268.3 L178.9,269.2 L179.2,270.1 L179.4,270.9 L179.7,271.8 L180.1,272.6 L180.5,273.2 L180.9,272.4 L181.2,271.6 L181.5,270.7 L181.8,269.9 L182.0,269.0 L182.3,268.1 L182.5,267.3 L182.8,266.4 L183.0,265.5 L183.2,264.6 L183.4,263.8 L183.6,262.9 L183.8,262.0 L184.0,261.1 L184.1,260.2 L184.3,259.3 L184.5,258.5 L184.6,257.6 L184.8,256.7 L185.0,255.8 L185.2,254.9 L185.4,254.1 L185.7,253.2 L186.3,252.6 L187.2,252.3 L188.1,252.2 L188.9,251.8 L189.5,251.2 L190.2,250.5 L190.8,249.9 L191.4,249.2 L191.9,248.4 L192.4,247.7 L192.8,246.9 L193.1,246.0 L193.3,245.2 L193.5,244.3 L193.7,243.4 L193.9,242.5 L194.1,241.6 L194.2,240.8 L194.4,239.9 L194.6,239.0 L194.7,238.1 L194.9,237.2 L195.0,236.3 L195.2,235.4 L195.4,234.6 L195.5,233.7 L195.7,232.8 L195.8,231.9 L195.9,231.0 L196.0,230.1 L196.1,229.2 L196.2,228.3 L196.4,227.4 L196.5,226.5 L196.7,225.7 L196.9,224.8 L197.2,223.9 L197.4,223.0 L197.7,222.2 L197.9,221.3 L198.2,220.5 L198.4,219.6 L198.7,218.7 L198.9,217.9 L199.2,217.0 L199.5,216.1 L199.7,215.3 L200.0,214.4 L200.3,213.6 L200.6,212.7 L200.9,211.9 L201.1,211.0 L201.5,210.2 L201.8,209.3 L202.2,208.5 L202.6,207.7 L202.9,206.9 L203.3,206.1 L203.7,205.2 L204.1,204.4 L204.5,203.6 L204.8,202.8 L205.2,202.0 L205.6,201.1 L205.9,200.3 L206.2,199.5 L206.5,198.6 L206.8,197.8 L207.1,196.9 L207.4,196.1 L207.7,195.2 L208.0,194.4 L208.4,193.5 L208.7,192.7 L209.1,191.9 L209.5,191.1 L209.9,190.3 L210.4,189.5 L210.8,188.7 L211.4,188.0 L212.0,187.4 L212.6,187.9 L213.1,188.6 L213.4,189.5 L213.8,190.3 L214.2,191.1 L214.5,191.9 L214.8,192.8 L215.2,193.6 L215.6,194.4 L216.1,195.2 L216.6,195.9 L217.0,196.7 L217.6,197.4 L218.1,198.1 L218.8,198.8 L219.6,198.9 L220.5,198.9 L221.4,198.7 L222.2,198.4 L223.0,198.0 L223.6,197.3 L224.0,196.5 L224.4,195.7 L224.7,194.8 L225.1,194.0 L225.4,193.2 L225.7,192.3 L226.0,191.5 L226.4,190.6 L226.7,189.8 L227.0,188.9 L227.2,188.1 L227.5,187.2 L227.9,186.4 L228.5,186.2 L228.8,187.1 L229.0,188.0 L229.3,188.8 L229.5,189.7 L229.7,190.6 L229.9,191.5 L230.1,192.3 L230.3,193.2 L230.5,194.1 L230.7,195.0 L230.9,195.9 L231.1,196.7 L231.3,197.6 L231.5,198.5 L231.7,199.4 L231.9,200.3 L232.0,201.1 L232.2,202.0 L232.4,202.9 L232.6,203.8 L232.8,204.7 L233.0,205.5 L233.3,206.4 L233.6,207.2 L234.0,207.6 L234.6,207.0 L235.1,206.2 L235.5,205.4 L235.9,204.6 L236.3,203.8 L236.7,203.0 L237.2,202.2 L237.6,201.4 L238.2,200.7 L238.8,200.0 L239.4,199.3 L240.0,198.7 L240.6,198.0 L241.3,197.4 L242.0,197.0 L242.8,196.9 L243.2,197.7 L243.6,198.5 L243.9,199.3 L244.1,200.2 L244.4,201.1 L244.6,201.9 L244.9,202.8 L245.1,203.7 L245.3,204.5 L245.5,205.4 L245.7,206.3 L245.9,207.2 L246.1,208.1 L246.2,208.9 L246.4,209.8 L246.6,210.7 L246.7,211.6 L246.9,212.5 L247.0,213.4 L247.2,214.3 L247.3,215.2 L247.5,216.0 L247.6,216.9 L247.8,217.8 L248.0,218.7 L248.1,219.6 L248.3,220.5 L248.5,221.4 L248.6,222.2 L248.8,223.1 L249.0,224.0 L249.2,224.9 L249.4,225.8 L249.6,226.6 L249.8,227.5 L250.1,228.3 L250.9,228.8 L251.8,228.9 L252.6,229.3 L253.0,230.0 L253.3,230.9 L253.5,231.7 L253.7,232.6 L253.9,233.5 L254.1,234.4 L254.3,235.2 L254.5,236.1 L254.7,237.0 L254.9,237.9 L255.1,238.8 L255.3,239.6 L255.5,240.5 L255.7,241.4 L255.8,242.3 L256.0,243.2 L256.1,244.1 L256.2,245.0 L256.4,245.8 L256.5,246.7 L256.7,247.6 L256.8,248.5 L257.1,249.4 L257.4,249.8 L257.6,248.9 L257.8,248.0 L257.9,247.1 L258.1,246.2 L258.2,245.4 L258.4,244.5 L258.5,243.6 L258.6,242.7 L258.8,241.8 L258.9,240.9 L259.1,240.0 L259.2,239.1 L259.3,238.2 L259.5,237.3 L259.6,236.5 L259.8,235.6 L260.0,234.7 L260.2,233.8 L260.3,232.9 L260.5,232.0 L260.7,231.1 L260.8,230.3 L261.0,229.4 L261.2,228.5 L261.5,227.6 L261.8,226.8 L262.3,227.4 L262.6,228.2 L262.9,229.0 L263.2,229.9 L263.5,230.7 L263.8,231.6 L264.1,232.4 L264.4,233.3 L264.7,234.1 L265.0,235.0 L265.3,235.8 L265.7,236.7 L266.1,237.5 L266.6,238.1 L267.1,237.5 L267.5,236.7 L267.9,235.9 L268.3,235.1 L268.6,234.2 L268.9,233.4 L269.2,232.5 L269.5,231.7 L269.7,230.8 L270.0,229.9 L270.2,229.1 L270.4,228.2 L270.6,227.3 L270.7,226.4 L270.9,225.5 L271.1,224.6 L271.2,223.8 L271.4,222.9 L271.6,222.0 L271.7,221.1 L271.9,220.2 L272.0,219.3 L272.2,218.4 L272.4,217.6 L272.5,216.7 L272.7,215.8 L272.8,214.9 L273.0,214.0 L273.1,213.1 L273.3,212.2 L273.4,211.3 L273.6,210.5 L273.7,209.6 L273.9,208.7 L274.0,207.8 L274.2,206.9 L274.3,206.0 L274.5,205.1 L274.6,204.2 L274.8,203.3 L274.9,202.5 L275.1,201.6 L275.2,200.7 L275.4,199.8 L275.5,198.9 L275.7,198.0 L275.8,197.1 L276.0,196.2 L276.1,195.3 L276.3,194.5 L276.5,193.6 L276.6,192.7 L276.8,191.8 L277.0,190.9 L277.2,190.1 L277.4,189.2 L277.6,188.3 L277.9,187.4 L278.1,186.6 L278.3,185.7 L278.6,184.8 L278.9,184.0 L279.2,183.1 L279.6,182.3 L280.1,182.8 L280.5,183.6 L280.8,184.5 L281.1,185.3 L281.4,186.2 L281.6,187.0 L281.9,187.9 L282.2,188.8 L282.4,189.6 L282.6,190.5 L282.8,191.4 L283.0,192.3 L283.2,193.1 L283.4,194.0 L283.6,194.9 L283.8,195.8 L284.0,196.6 L284.2,197.5 L284.5,198.4 L284.7,199.3 L284.9,200.1 L285.2,201.0 L285.5,201.8 L285.9,201.7 L286.2,200.9 L286.4,200.0 L286.7,199.2 L286.8,198.3 L287.0,197.4 L287.2,196.5 L287.3,195.6 L287.5,194.7 L287.7,193.9 L287.9,193.0 L288.0,192.1 L288.2,191.2 L288.3,190.3 L288.4,189.4 L288.6,188.5 L288.7,187.6 L288.9,186.8 L289.0,185.9 L289.1,185.0 L289.3,184.1 L289.4,183.2 L289.6,182.3 L289.7,181.4 L289.8,180.5 L290.0,179.6 L290.1,178.7 L290.3,177.9 L290.4,177.0 L290.6,176.1 L290.8,175.2 L290.9,174.3 L291.1,173.4 L291.4,172.6 L292.0,171.9 L292.7,171.4 L293.5,171.4 L294.0,172.1 L294.5,172.9 L295.0,173.6 L295.7,173.7 L296.2,172.9 L296.5,172.1 L296.9,171.2 L297.2,170.4 L297.5,169.5 L297.9,168.7 L298.2,167.9 L298.5,167.0 L298.9,166.2 L299.2,165.4 L299.5,164.5 L299.9,163.7 L300.2,162.8 L300.5,162.0 L300.8,161.1 L301.1,160.3 L301.4,159.5 L301.7,158.6 L302.1,157.8 L302.4,157.0 L302.8,156.1 L303.2,155.3 L303.6,154.6 L304.1,153.8 L304.7,153.7 L305.4,154.3 L305.9,155.0 L306.4,155.8 L306.9,156.5 L307.3,157.3 L307.7,158.1 L308.1,158.9 L308.6,159.7 L309.1,160.5 L309.6,161.2 L310.2,161.8 L310.8,162.1 L311.4,161.4 L312.0,160.7 L312.4,159.9 L312.8,159.1 L313.2,158.3 L313.6,157.5 L314.0,156.7 L314.4,155.9 L314.8,155.1 L315.1,154.2 L315.5,153.4 L315.9,152.6 L316.4,151.8 L316.8,151.1 L317.4,150.3 L317.9,149.6 L318.5,148.9 L319.1,148.2 L319.6,147.5 L320.2,146.9 L320.8,146.2 L321.4,145.5 L322.0,144.8 L322.6,144.2 L323.2,143.5 L323.8,142.8 L324.4,142.2 L325.0,141.5 L325.7,140.8 L326.3,140.2 L326.9,139.5 L327.5,138.9 L328.1,138.2 L328.7,137.5 L329.2,136.8 L329.7,136.0 L330.2,135.3 L330.6,134.5 L331.1,133.7 L331.6,132.9 L332.0,132.2 L332.5,131.4 L333.0,130.6 L333.5,129.9 L334.0,129.2 L334.6,128.5 L335.2,127.9 L336.1,128.0 L337.0,128.3 L337.8,128.7 L338.5,129.3 L339.2,129.8 L339.8,130.5 L340.5,131.1 L341.0,131.9 L341.4,132.6 L341.9,133.4 L342.4,134.2 L342.8,134.9 L343.3,135.7 L343.7,136.5 L344.1,137.3 L344.6,138.1 L345.0,138.9 L345.5,139.6 L345.9,140.4 L346.4,141.2 L346.9,141.9 L347.4,142.7 L348.0,143.4 L348.5,144.1 L349.1,144.8 L349.7,145.5 L350.2,146.2 L350.8,146.9 L351.3,147.6 L351.9,148.3 L352.4,149.1 L352.8,149.9 L353.3,150.6 L353.7,151.4 L354.2,152.2 L354.6,153.0 L355.1,153.8 L355.5,154.6 L355.9,155.4 L356.4,156.1 L356.8,156.9 L357.2,157.7 L357.7,158.5 L358.1,159.3 L358.6,160.1 L359.0,160.8 L359.5,161.6 L360.0,162.4 L360.4,163.2 L360.9,163.9 L361.3,164.7 L361.8,165.5 L362.3,166.2 L362.9,166.9 L363.6,167.4 L364.3,167.4 L364.8,166.7 L365.4,165.9 L365.8,165.1 L366.3,164.4 L366.7,163.6 L367.1,162.8 L367.5,161.9 L367.9,161.1 L368.3,160.3 L368.7,159.5 L369.1,158.7 L369.6,158.0 L370.0,157.2 L370.5,156.4 L371.1,155.7 L371.6,155.0 L372.1,154.2 L372.7,153.5 L373.2,152.8 L373.8,152.1 L374.4,151.5 L375.1,150.9 L375.9,150.8 L376.7,151.2 L377.3,151.8 L378.0,152.4 L378.6,153.1 L379.2,153.8 L379.7,154.5 L380.3,155.2 L380.9,155.9 L381.5,156.6 L382.0,157.3 L382.5,158.0 L383.0,158.8 L383.5,159.5 L384.0,160.3 L384.5,161.0 L385.1,161.7 L385.6,162.4 L386.2,163.1 L387.0,163.6 L387.7,163.6 L388.4,163.1 L389.1,162.5 L389.7,161.8 L390.3,161.1 L390.8,160.4 L391.4,159.7 L391.9,159.0 L392.5,158.3 L393.1,157.6 L393.7,156.9 L394.3,156.3 L394.9,155.7 L395.6,155.1 L396.3,154.5 L397.0,154.0 L397.8,153.4 L398.5,152.9 L399.3,152.5 L400.1,152.1 L401.0,151.9 L401.7,152.4 L402.4,153.0 L403.0,153.7 L403.5,154.4 L404.1,155.1 L404.6,155.8 L405.2,156.5 L405.7,157.3 L406.2,158.0 L406.8,158.7 L407.3,159.4 L407.9,160.1 L408.5,160.8 L409.2,161.4 L409.8,162.1 L410.4,162.7 L411.1,163.3 L411.7,164.0 L412.3,164.6 L413.0,165.2 L413.6,165.9 L414.2,166.5 L414.8,167.2 L415.5,167.8 L416.1,168.5 L416.7,169.2 L417.3,169.8 L417.9,170.5 L418.5,171.2 L419.1,171.9 L419.7,172.5 L420.2,173.3 L420.8,174.0 L421.3,174.7 L421.7,175.5 L422.2,176.3 L422.6,177.1 L423.0,177.9 L423.4,178.7 L423.8,179.5 L424.2,180.3 L424.6,181.1 L425.0,181.9 L425.4,182.7 L425.8,183.5 L426.1,184.4 L426.5,185.2 L426.9,186.0 L427.2,186.9 L427.5,187.7 L427.8,188.5 L428.1,189.4 L428.4,190.2 L428.7,191.1 L429.0,191.9 L429.3,192.8 L429.6,193.6 L429.9,194.5 L430.2,195.3 L430.5,196.2 L430.8,197.1 L431.1,197.9 L431.4,198.8 L431.7,199.6 L432.0,200.4 L432.3,201.3 L432.6,202.1 L432.9,203.0 L433.2,203.8 L433.5,204.7 L433.8,205.5 L434.1,206.4 L434.4,207.2 L434.8,208.1 L435.1,208.9 L435.7,209.6 L436.2,209.7 L436.6,208.9 L436.9,208.0 L437.2,207.2 L437.5,206.3 L437.8,205.5 L438.0,204.6 L438.3,203.7 L438.5,202.9 L438.8,202.0 L439.0,201.1 L439.3,200.3 L439.5,199.4 L439.8,198.5 L440.0,197.7 L440.3,196.8 L440.6,196.0 L440.8,195.1 L441.1,194.2 L441.3,193.4 L441.6,192.5 L441.9,191.6 L442.1,190.8 L442.4,189.9 L442.6,189.0 L442.9,188.2 L443.2,187.3 L443.4,186.5 L443.7,185.6 L443.9,184.7 L444.2,183.9 L444.5,183.0 L444.8,182.2 L445.1,181.3 L445.4,180.5 L445.7,179.6 L446.0,178.8 L446.3,177.9 L446.6,177.1 L446.9,176.2 L447.2,175.4 L447.5,174.5 L447.8,173.7 L448.2,172.9 L448.5,172.0 L448.9,171.2 L449.3,170.4 L449.8,169.7 L450.4,169.0 L451.0,168.3 L451.6,167.6 L452.3,167.0 L453.0,166.5 L453.8,166.1 L454.6,165.8 L455.5,165.6 L456.4,165.4 L457.3,165.3 L458.2,165.1 L459.0,165.0 L459.9,164.8 L460.8,164.5 L461.6,164.1 L462.3,163.6 L463.0,163.0 L463.7,162.4 L464.4,161.9 L465.0,161.2 L465.7,160.6 L466.3,160.0 L466.9,159.3 L467.4,158.6 L467.9,157.8 L468.4,157.0 L468.9,156.3 L469.3,155.5 L469.8,154.7 L470.3,154.0 L470.8,153.2 L471.5,152.7 L472.3,152.3 L473.2,152.0 L474.0,151.8 L474.9,151.8 L475.8,151.9 L476.5,152.5 L477.1,153.1 L477.7,153.8 L478.3,154.5 L478.9,155.2 L479.4,155.9 L480.0,156.6 L480.4,157.4 L480.8,158.2 L481.3,159.0 L481.7,159.8 L482.1,160.6 L482.5,161.4 L482.9,162.2 L483.3,163.1 L483.6,163.9 L484.0,164.7 L484.4,165.5 L484.7,166.4 L484.9,167.2 L485.2,168.1 L485.5,168.9 L485.7,169.8 L486.0,170.7 L486.6,171.6 L486.7,172.8 L486.7,172.9 L486.6,174.2 L487.1,175.8 L487.7,176.7 L487.8,176.0 L487.7,177.1 L487.8,177.7 L487.7,179.3 L487.8,179.4 L487.9,181.1 L488.7,182.4 L488.6,182.6 L488.5,184.2 L488.9,184.2 L488.7,182.2 L488.9,182.4 L489.4,180.9 L489.4,180.3 L489.3,179.1 L489.2,179.0 L489.6,177.6 L489.9,176.2 L489.5,176.0 L489.3,175.6 L489.4,173.8 L489.5,172.7 L490.3,172.2 L490.3,173.8 L490.8,174.7 L490.4,175.0 L490.7,176.3 L491.2,177.1 L491.5,177.0 L491.3,177.3 L491.2,179.3 L492.1,180.0 L491.9,180.5 L492.5,180.0 L492.3,179.5 L492.9,178.7 L493.1,177.5 L493.2,176.6 L493.0,176.0 L493.4,176.0 L493.1,174.5 L493.3,173.0 L493.6,172.1 L494.1,171.6 L493.8,170.8 L494.7,171.6 L494.8,173.1 L495.2,173.1 L494.9,174.8 L494.9,175.5 L495.1,177.0 L495.8,178.0 L496.1,178.8 L496.1,179.6 L496.2,179.6 L496.5,179.4 L497.1,177.9 L497.4,177.5 L497.0,176.1 L497.3,175.5 L498.1,173.9 L498.4,173.4 L498.3,174.5 L498.7,173.8 L499.1,175.6 L499.4,176.4 L499.3,177.4 L500.1,177.8 L500.1,178.9 L500.5,178.7 L500.3,179.6 L501.2,180.7 L501.3,181.4 L501.4,182.1 L502.3,183.0 L502.5,184.6 L503.1,184.7 L502.9,187.0 L503.4,187.2 L504.4,187.7 L504.5,188.8 L505.1,188.7 L505.3,190.8 L506.4,191.4 L506.5,192.0 L507.2,192.3 L507.0,193.8 L507.8,194.3 L507.9,195.0 L509.0,196.3 L509.1,196.5 L509.2,196.7 L509.7,197.9 L510.4,198.0 L510.5,198.8 L511.0,200.6 L511.6,201.6 L512.2,201.8 L512.6,202.9 L512.8,203.9 L513.5,203.7 L513.3,205.5 L514.1,204.5 L513.8,205.9 L514.7,208.8 L514.9,207.1 L514.9,208.2 L515.4,209.2 L515.5,211.0 L516.0,209.9 L515.6,210.9 L516.2,213.5 L516.6,213.2 L516.9,216.2 L516.5,217.5 L516.8,217.5 L517.5,218.9 L517.3,218.5 L517.4,218.0 L518.6,219.6 L519.0,218.7 L519.9,219.0 L520.4,216.6 L521.1,217.4 L521.7,220.4 L522.2,218.9 L523.2,220.2 L523.6,223.0 L524.2,221.1 L524.8,221.3 L524.8,224.3 L525.8,224.5 L526.3,225.4 L526.5,223.9 L527.1,226.1 L527.1,225.2 L528.1,227.0 L528.0,229.7 L528.6,227.9 L528.6,229.7 L528.8,233.3 L529.6,234.1 L529.8,233.0 L529.7,235.0 L530.1,236.5 L530.4,238.5 L531.2,234.0 L531.4,238.1 L531.7,238.6 L532.0,239.9 L532.0,240.0 L532.7,241.0 L533.5,243.7 L533.7,242.0 L533.9,243.3 L534.0,245.1 L534.9,242.3 L534.9,245.1 L535.5,243.9 L535.7,244.9 L536.4,244.8 L537.0,246.7 L537.7,247.4 L538.0,249.8 L539.2,250.7 L539.5,252.9 L540.5,251.4 L541.1,254.5 L541.8,252.2 L542.0,255.0 L542.5,254.6 L543.7,254.9 L543.9,252.1 L544.3,255.4 L545.3,253.6 L545.1,249.1 L546.3,250.7 L546.3,252.7 L546.9,246.2 L547.9,247.0 L548.0,249.0 L548.9,244.2 L549.3,247.8 L550.4,246.2 L551.0,246.6 L551.5,244.9 L551.9,246.7 L552.8,242.6 L553.6,243.3 L554.1,239.6 L555.0,242.0 L555.4,240.6 L556.3,243.4 L557.0,242.6 L557.7,237.1 L558.6,239.6 L558.8,238.9 L559.6,237.1 L560.1,236.5 L560.7,237.5 L561.2,234.8 L562.1,235.5 L562.3,235.7 L562.3,234.7 L563.2,232.4 L563.8,230.6 L564.2,231.1 L564.3,230.5 L564.3,229.1 L565.3,227.5 L565.9,227.2 L566.1,224.9 L566.3,224.9 L566.7,223.6 L567.4,224.9 L567.4,225.3 L568.5,221.4 L568.9,220.2 L569.2,222.5 L570.5,220.3 L570.9,220.3 L571.3,218.0 L572.1,217.9 L573.4,219.5 L573.6,218.6 L574.8,219.1 L575.8,218.1 L576.4,216.1 L576.8,216.8 L578.4,217.4 L578.5,216.4 L579.9,217.1 L580.9,215.5 L581.1,215.7 L582.0,214.0 L582.8,214.9 L582.9,214.2 L583.6,212.8 L584.0,211.6 L584.6,210.9 L585.2,210.8 L585.9,209.0 L586.8,209.2 L587.3,208.0 L588.0,207.4 L588.6,206.8 L589.4,207.5 L589.6,205.4 L590.7,205.0 L591.0,204.3 L592.1,203.4 L593.0,203.7 L593.3,204.1 L593.6,203.4 L594.0,201.7 L594.6,200.7 L595.4,201.0 L595.9,199.4 L596.1,198.6 L596.7,198.1 L596.9,195.9 L597.0,196.9 L597.5,194.3 L598.1,194.6 L598.5,194.7 L598.9,193.0 L599.2,191.7 L599.4,191.9 L600.1,190.5 L600.7,189.8 L601.2,189.1 L601.8,188.4 L602.4,187.8 L603.0,187.1 L603.7,186.5 L604.3,185.8 L604.9,185.2 L605.5,184.5 L606.1,183.8 L606.6,183.1 L607.1,182.3 L607.6,181.6 L608.2,180.8 L608.7,180.1 L609.3,179.5 L610.0,178.9 L610.9,179.0 L611.8,179.2 L612.6,179.5 L613.5,179.8 L614.3,180.2 L615.0,180.7 L615.7,181.3 L616.2,182.0 L616.7,182.8 L617.2,183.5 L617.7,184.3 L618.1,185.1 L618.5,185.9 L618.9,186.7 L619.3,187.5 L619.7,188.3 L620.1,189.1 L620.4,190.0 L620.7,190.8 L621.0,191.7 L621.3,192.5 L621.6,193.4 L621.9,194.2 L622.2,195.1 L622.5,195.9 L622.8,196.8 L623.1,197.6 L623.4,198.5 L623.7,199.3 L624.0,200.2 L624.4,201.0 L624.8,201.8 L625.0,203.3 L625.9,202.9 L626.0,204.8 L627.0,204.2 L627.4,206.3 L627.6,206.1 L628.3,207.5 L629.0,206.9 L629.5,208.4 L629.8,208.8 L630.1,210.3 L631.0,210.2 L631.6,209.0 L631.7,208.5 L632.1,208.1 L632.3,205.8 L632.3,205.7 L632.3,205.0 L633.0,204.1 L633.0,202.6 L633.4,202.7 L633.2,200.8 L633.5,200.9 L633.9,199.5 L634.3,198.1 L634.1,198.3 L634.8,196.2 L635.1,196.5 L635.2,195.3 L635.5,194.9 L635.3,193.9 L635.4,192.4 L635.8,191.1 L635.8,190.4 L636.3,189.1 L636.8,189.3 L636.6,187.5 L637.3,186.8 L637.2,186.0 L637.2,185.4 L637.8,185.0 L638.0,183.7 L638.2,183.0 L638.6,181.5 L639.3,181.0 L639.5,180.0 L639.4,180.0 L640.3,178.0 L640.0,178.1 L640.6,177.4 L640.9,176.3 L641.8,174.7 L641.4,174.3 L642.4,173.5 L643.1,173.1 L643.6,172.7 L644.8,173.5 L645.8,173.0 L646.7,173.0 L647.0,172.6 L648.5,172.2 L648.8,173.6 L649.9,173.5 L650.3,174.1 L651.1,174.4 L651.6,173.6 L652.0,172.8 L652.4,172.0 L652.8,171.2 L653.1,170.4 L653.5,169.5 L653.9,168.7 L654.3,167.9 L654.8,167.2 L655.3,166.4 L655.9,165.7 L656.4,165.0 L656.9,164.2 L657.4,163.5 L658.0,162.8 L658.5,162.1 L659.0,161.3 L659.6,160.6 L660.1,159.9 L660.6,159.1 L661.0,158.3 L661.4,157.5 L661.9,156.8 L662.3,156.0 L662.8,155.2 L663.3,154.5 L663.9,153.8 L664.6,153.4 L665.2,154.0 L665.8,154.7 L666.3,155.5 L666.8,156.2 L667.2,157.0 L667.7,157.8 L668.1,158.6 L668.6,159.4 L669.0,160.2 L669.3,161.0 L669.7,161.8 L670.0,162.7 L670.4,163.5 L670.7,164.3 L671.0,165.2 L671.3,166.0 L671.7,166.8 L672.0,167.7 L672.3,168.5 L672.6,169.4 L673.0,170.2 L673.3,171.1 L673.6,171.9 L673.9,172.7 L674.2,173.6 L674.6,174.4 L674.9,175.3 L675.2,176.1 L675.5,176.9 L675.8,177.8 L676.2,178.6 L676.5,179.5 L676.8,180.3 L677.1,181.2 L677.5,182.0 L677.8,182.8 L678.1,183.7 L678.5,184.5 L678.8,185.3 L679.2,186.2 L679.5,187.0" stroke-linecap="butt"/>
</g>
<path d="M126.5,358.3 V344.9 M126.5,1.75 V15.1 M264.8,358.3 V344.9 M264.8,1.75 V15.1 M403.05,358.3 V344.9 M403.05,1.75 V15.1 M541.3,358.3 V344.9 M541.3,1.75 V15.1 M679.6,358.3 V344.9 M679.6,1.75 V15.1 M126.5,46.3 h13.4 M679.6,46.3 h-13.4 M126.5,135.45 h13.4 M679.6,135.45 h-13.4 M126.5,224.6 h13.4 M679.6,224.6 h-13.4 M126.5,313.75 h13.4 M679.6,313.75 h-13.4" stroke="#000" stroke-width="3.5" fill="none"/>
<path d="M124.2,1.75 H681.9 M124.2,358.3 H681.9" stroke="#000" stroke-width="3.65" fill="none"/>
<path d="M126.5,0 V360.1 M679.6,0 V360.1" stroke="#000" stroke-width="4.55" fill="none"/>
<rect x="124.2" y="0" width="53.8" height="46.2" fill="#000"/>
<text x="129.3" y="32.8" font-size="37" style="fill:#fff;stroke:#fff">(a)</text>
<text x="126.5" y="398.8" font-size="37" text-anchor="middle">1.1</text>
<text x="264.8" y="398.8" font-size="37" text-anchor="middle">1.2</text>
<text x="403.05" y="398.8" font-size="37" text-anchor="middle">1.3</text>
<text x="541.3" y="398.8" font-size="37" text-anchor="middle">1.4</text>
<text x="679.6" y="398.8" font-size="37" text-anchor="middle">1.5</text>
<clipPath id="cA"><rect x="337.7" y="30.3" width="302.3" height="25.2"/></clipPath>
<g clip-path="url(#cA)">
<rect x="334.7" y="27.3" width="308.3" height="31.2" fill="url(#bgA)"/>
<g filter="url(#bl3)">
<ellipse cx="340" cy="44" rx="8" ry="11" fill="#2a0a8c" opacity="0.7"/>
<ellipse cx="420" cy="44" rx="22" ry="11" fill="#a000b4" opacity="0.7"/>
<ellipse cx="548" cy="44" rx="26" ry="11" fill="#b400b4" opacity="0.75"/>
<ellipse cx="465" cy="44" rx="25" ry="11" fill="#8c00b4" opacity="0.5"/>
<ellipse cx="590" cy="44" rx="14" ry="11" fill="#9600b4" opacity="0.6"/>
<ellipse cx="352" cy="44" rx="12" ry="11" fill="#8200b4" opacity="0.5"/>
<ellipse cx="628" cy="44" rx="10" ry="11" fill="#8200b4" opacity="0.4"/>
<ellipse cx="515" cy="44" rx="10" ry="11" fill="#8c00b4" opacity="0.4"/>
</g>
<g filter="url(#bl1)">
<rect x="346.6" y="38.0" width="12.4" height="12.2" fill="#ff6e1e" transform="rotate(-3 352.8 44.1)"/>
<rect x="360.8" y="38.5" width="9.5" height="11.5" fill="#7408aa"/>
<rect x="385.0" y="40.0" width="11.4" height="11.0" fill="#c82878"/>
<rect x="398.0" y="40.0" width="9.0" height="10.0" fill="#7408aa"/>
<rect x="407.8" y="38.3" width="13.2" height="12.7" fill="#ffd23c"/>
<rect x="409.3" y="39.5" width="10.7" height="10.5" fill="#fffbd0"/>
<rect x="420.8" y="37.5" width="12.2" height="13.5" fill="#ffe678"/>
<rect x="422.3" y="38.5" width="9.7" height="11.5" fill="#ffffff"/>
<rect x="434.3" y="39.0" width="10.7" height="11.0" fill="#9c10a2"/>
<rect x="446.1" y="38.0" width="11.3" height="11.0" fill="#fa5a28"/>
<rect x="458.0" y="38.5" width="11.8" height="11.5" fill="#cc2c7a"/>
<rect x="470.5" y="38.0" width="12.8" height="12.8" fill="#ffb41e"/>
<rect x="471.8" y="39.0" width="10.5" height="11.0" fill="#ffe628"/>
<rect x="485.0" y="39.0" width="9.5" height="10.5" fill="#7408aa"/>
<rect x="497.0" y="39.0" width="10.0" height="10.5" fill="#6a08a8"/>
<rect x="509.6" y="40.0" width="10.7" height="12.0" fill="#ff6e14"/>
<rect x="521.6" y="38.3" width="12.6" height="14.4" fill="#06101c"/>
<rect x="535.0" y="37.5" width="13.0" height="13.5" fill="#ffd23c"/>
<rect x="536.0" y="38.5" width="11.4" height="11.5" fill="#ffffff"/>
<rect x="546.0" y="36.0" width="14.0" height="16.0" fill="#ffbe32"/>
<rect x="546.8" y="37.0" width="12.5" height="14.0" fill="#ffffff"/>
<rect x="560.6" y="37.6" width="10.1" height="10.7" fill="#e63c5a"/>
<rect x="572.6" y="38.5" width="10.7" height="10.5" fill="#c42480"/>
<rect x="584.5" y="38.0" width="14.0" height="15.0" fill="#ffa01e" transform="rotate(6 591.5 45.5)"/>
<rect x="586.0" y="39.5" width="11.0" height="12.0" fill="#fff096" transform="rotate(6 591.5 45.5)"/>
<rect x="588.0" y="41.0" width="7.0" height="8.0" fill="#ffffff" transform="rotate(6 591.5 45.0)"/>
<rect x="599.6" y="39.0" width="12.4" height="11.0" fill="#7a0aac"/>
<rect x="622.3" y="39.5" width="12.6" height="13.9" fill="#ff8c0a" transform="rotate(8 628.6 46.5)"/>
</g></g>
<rect x="336.65" y="29.25" width="304.40000000000003" height="27.3" fill="none" stroke="#000" stroke-width="3.9"/>
<rect x="910.7" y="1" width="276.5" height="357.5" fill="#ffbfbf"/>
<clipPath id="axB"><rect x="772.4" y="1" width="553.1" height="357"/></clipPath>
<g clip-path="url(#axB)" fill="none" stroke="#440154" stroke-width="4.05" stroke-linejoin="round">
<path d="M773.5,104.5 L774.3,104.9 L775.1,105.4 L775.9,105.8 L776.7,106.2 L777.5,106.7 L778.2,107.1 L779.0,107.6 L779.8,108.0 L780.5,108.5 L781.2,109.1 L781.9,109.7 L782.4,110.4 L783.0,111.1 L783.5,111.9 L784.0,112.6 L784.4,113.4 L784.9,114.2 L785.3,114.9 L785.8,115.7 L786.2,116.5 L786.7,117.3 L787.1,118.1 L787.5,118.9 L787.8,119.7 L788.2,120.6 L788.5,121.4 L788.8,122.2 L789.2,123.1 L789.5,123.9 L789.8,124.8 L790.1,125.6 L790.4,126.5 L790.6,127.3 L790.8,128.2 L791.0,129.1 L791.2,130.0 L791.4,130.9 L791.5,131.8 L791.7,132.6 L791.9,133.5 L792.1,134.4 L792.2,135.3 L792.5,136.1 L792.7,137.0 L793.2,137.8 L793.6,138.6 L794.2,139.3 L794.7,140.0 L795.3,140.7 L795.8,141.4 L796.4,142.1 L797.0,142.8 L797.5,143.5 L798.0,144.3 L798.6,145.0 L799.0,145.8 L799.5,146.5 L800.0,147.3 L800.4,148.1 L800.9,148.9 L801.3,149.7 L801.7,150.5 L802.1,151.3 L802.4,152.1 L802.7,153.0 L802.9,153.9 L803.1,154.7 L803.3,155.6 L803.5,156.5 L803.7,157.4 L803.9,158.2 L804.0,159.1 L804.2,160.0 L804.4,160.9 L804.6,161.8 L804.8,162.6 L805.0,163.5 L805.2,164.4 L805.4,165.3 L805.6,166.2 L805.8,167.0 L806.0,167.9 L806.2,168.8 L806.4,169.7 L806.6,170.6 L806.7,171.4 L806.9,172.3 L807.1,173.2 L807.2,174.1 L807.3,175.0 L807.5,175.9 L807.6,176.8 L807.7,177.7 L807.9,178.6 L808.1,179.4 L808.2,180.3 L808.5,181.2 L808.7,182.1 L809.0,182.9 L809.2,183.8 L809.5,184.6 L809.8,185.5 L810.1,186.4 L810.3,187.2 L810.6,188.1 L810.9,188.9 L811.2,189.8 L811.5,190.6 L811.9,191.4 L812.2,192.3 L812.6,193.1 L813.0,193.9 L813.4,194.7 L813.8,195.5 L814.2,196.3 L814.6,197.1 L815.0,197.9 L815.5,198.7 L815.9,199.5 L816.3,200.3 L816.7,201.1 L817.1,201.9 L817.5,202.7 L817.9,203.5 L818.3,204.3 L818.7,205.2 L819.1,206.0 L819.5,206.8 L819.8,207.6 L820.2,208.4 L820.5,209.3 L820.7,210.1 L821.0,211.0 L821.2,211.9 L821.5,212.7 L821.7,213.6 L822.0,214.5 L822.2,215.3 L822.5,216.2 L822.8,217.0 L823.2,217.9 L823.5,218.7 L823.8,219.5 L824.2,220.4 L824.5,221.2 L824.8,222.1 L825.2,222.9 L825.5,223.7 L825.8,224.6 L826.2,225.4 L826.5,226.2 L826.8,227.1 L827.1,227.9 L827.4,228.8 L827.7,229.6 L828.1,230.5 L828.4,231.3 L828.8,232.1 L829.1,232.9 L829.6,233.7 L830.1,234.5 L830.6,235.2 L831.1,235.9 L831.7,236.6 L832.2,237.3 L832.8,238.0 L833.4,238.7 L834.0,239.4 L834.6,240.1 L835.2,240.8 L835.8,241.4 L836.5,242.0 L837.1,242.6 L837.8,243.2 L838.5,243.8 L839.2,244.4 L839.9,244.9 L840.6,245.4 L841.4,245.9 L842.2,246.1 L843.1,246.1 L844.0,246.0 L844.9,245.8 L845.8,245.6 L846.7,245.4 L847.6,245.4 L848.4,245.5 L849.2,246.0 L850.0,246.5 L850.7,247.0 L851.4,247.6 L852.0,248.2 L852.7,248.8 L853.4,249.4 L854.1,249.9 L854.8,250.5 L855.6,250.9 L856.4,251.4 L857.1,251.9 L857.9,252.3 L858.7,252.7 L859.5,253.1 L860.4,253.5 L861.2,253.7 L862.1,253.8 L863.0,253.6 L863.8,253.3 L864.6,252.9 L865.4,252.5 L866.3,252.2 L867.1,251.8 L868.0,251.7 L868.7,252.1 L869.4,252.8 L869.9,253.5 L870.4,254.2 L870.9,255.0 L871.3,255.8 L871.8,256.6 L872.2,257.3 L872.7,258.1 L873.1,258.9 L873.5,259.7 L873.9,260.5 L874.3,261.3 L874.7,262.1 L875.1,263.0 L875.5,263.7 L876.0,264.5 L876.5,265.2 L877.1,265.9 L877.9,266.1 L878.8,266.2 L879.7,266.1 L880.6,266.0 L881.5,265.8 L882.3,265.6 L883.2,265.5 L884.1,265.3 L885.0,265.3 L885.9,265.4 L886.5,266.0 L887.1,266.7 L887.5,267.5 L887.9,268.3 L888.3,269.1 L888.6,269.9 L888.9,270.8 L889.3,271.6 L889.6,272.5 L889.9,273.3 L890.1,274.2 L890.3,275.1 L890.5,275.9 L890.6,276.8 L890.8,277.7 L890.9,278.6 L891.1,279.5 L891.2,280.4 L891.4,281.3 L891.5,282.2 L891.7,283.0 L891.8,283.9 L892.0,284.8 L892.1,285.7 L892.3,286.6 L892.4,287.5 L892.6,288.4 L892.7,289.3 L892.9,290.1 L893.0,291.0 L893.2,291.9 L893.4,292.8 L893.6,293.7 L893.9,294.5 L894.1,295.4 L894.4,296.3 L894.6,297.1 L894.9,298.0 L895.2,298.8 L895.5,299.7 L895.8,300.5 L896.2,301.4 L896.5,302.2 L897.1,302.9 L897.7,303.5 L898.4,304.1 L899.0,304.8 L899.7,305.3 L900.4,305.9 L901.2,306.4 L902.0,306.8 L902.8,307.2 L903.3,306.5 L903.7,305.6 L904.0,304.8 L904.2,303.9 L904.4,303.0 L904.6,302.2 L904.8,301.3 L905.0,300.4 L905.2,299.5 L905.4,298.7 L905.6,297.8 L905.8,296.9 L905.9,296.0 L906.1,295.1 L906.3,294.2 L906.4,293.4 L906.6,292.5 L906.7,291.6 L906.9,290.7 L907.0,289.8 L907.2,288.9 L907.3,288.0 L907.4,287.1 L907.6,286.2 L907.7,285.4 L907.8,284.5 L908.0,283.6 L908.1,282.7 L908.3,281.8 L908.5,280.9 L908.6,280.0 L908.8,279.1 L909.0,278.3 L909.1,277.4 L909.3,276.5 L909.5,275.6 L909.7,274.7 L909.9,273.9 L910.1,273.0 L910.4,272.1 L910.9,272.0 L911.4,272.7 L911.9,273.5 L912.3,274.3 L912.7,275.1 L913.0,276.0 L913.4,276.8 L913.7,277.6 L914.1,278.4 L914.4,279.3 L914.6,280.2 L914.9,281.0 L915.1,281.9 L915.3,282.8 L915.5,283.6 L915.7,284.5 L915.9,285.4 L916.1,286.3 L916.4,287.1 L916.6,288.0 L917.0,288.8 L917.3,289.1 L917.6,288.3 L917.8,287.4 L918.0,286.5 L918.2,285.6 L918.3,284.7 L918.5,283.9 L918.6,283.0 L918.8,282.1 L918.9,281.2 L919.1,280.3 L919.2,279.4 L919.4,278.5 L919.5,277.6 L919.6,276.7 L919.7,275.9 L919.9,275.0 L920.0,274.1 L920.1,273.2 L920.2,272.3 L920.3,271.4 L920.4,270.5 L920.5,269.6 L920.6,268.7 L920.7,267.8 L920.8,266.9 L920.9,266.0 L921.0,265.1 L921.1,264.2 L921.2,263.3 L921.3,262.4 L921.4,261.5 L921.5,260.6 L921.6,259.8 L921.7,258.9 L921.8,258.0 L921.9,257.1 L922.0,256.2 L922.1,255.3 L922.2,254.4 L922.3,253.5 L922.4,252.6 L922.5,251.7 L922.6,250.8 L922.8,249.9 L923.0,249.0 L923.3,248.3 L924.2,248.2 L925.1,248.4 L925.9,248.8 L926.7,249.2 L927.4,249.8 L928.1,250.4 L928.5,251.2 L928.7,252.0 L928.9,252.9 L929.0,253.8 L929.2,254.7 L929.3,255.6 L929.4,256.5 L929.5,257.4 L929.6,258.3 L929.7,259.2 L929.8,260.1 L929.9,261.0 L930.1,261.8 L930.2,262.7 L930.3,263.6 L930.4,264.5 L930.5,265.4 L930.6,266.3 L930.8,267.2 L930.9,268.1 L931.0,269.0 L931.1,269.9 L931.2,270.8 L931.3,271.7 L931.3,272.6 L931.4,273.5 L931.5,274.4 L931.6,275.3 L931.7,276.2 L931.7,277.1 L931.8,278.0 L931.9,278.9 L932.0,279.8 L932.0,280.6 L932.1,281.5 L932.3,282.4 L932.4,283.3 L932.5,284.2 L932.6,285.1 L932.8,286.0 L932.9,286.9 L933.0,287.8 L933.1,288.7 L933.3,289.6 L933.4,290.5 L933.5,291.4 L933.6,292.3 L933.7,293.2 L933.7,294.0 L933.8,294.9 L933.9,295.8 L934.0,296.7 L934.1,297.6 L934.4,298.1 L934.6,297.2 L934.8,296.3 L934.9,295.5 L935.1,294.6 L935.2,293.7 L935.4,292.8 L935.5,291.9 L935.7,291.0 L935.8,290.1 L936.0,289.2 L936.1,288.4 L936.2,287.5 L936.3,286.6 L936.4,285.7 L936.5,284.8 L936.6,283.9 L936.7,283.0 L936.8,282.1 L936.9,281.2 L936.9,280.3 L937.0,279.4 L937.1,278.5 L937.2,277.6 L937.3,276.7 L937.4,275.8 L937.5,274.9 L937.6,274.0 L937.7,273.1 L937.8,272.2 L937.9,271.3 L938.0,270.4 L938.0,269.5 L938.1,268.6 L938.2,267.8 L938.3,266.9 L938.4,266.0 L938.5,265.1 L938.6,264.2 L938.7,263.3 L938.8,262.4 L938.9,261.5 L939.0,260.6 L939.1,259.7 L939.3,258.8 L939.6,258.0 L940.2,257.3 L940.8,256.7 L941.6,256.2 L942.5,256.1 L943.0,256.6 L943.3,257.5 L943.5,258.4 L943.7,259.2 L943.9,260.1 L944.1,261.0 L944.2,261.9 L944.4,262.8 L944.6,263.7 L944.8,264.5 L944.9,265.4 L945.1,266.3 L945.3,267.2 L945.4,268.1 L945.6,269.0 L945.7,269.9 L945.9,270.7 L946.1,271.6 L946.2,272.5 L946.4,273.4 L946.5,274.3 L946.6,275.2 L946.8,276.1 L946.9,277.0 L947.1,277.8 L947.2,278.7 L947.4,279.6 L947.5,280.5 L947.6,281.4 L947.8,282.3 L947.9,283.2 L948.0,284.1 L948.1,285.0 L948.3,285.9 L948.3,286.8 L948.4,287.7 L948.5,288.6 L948.5,289.5 L948.6,290.4 L948.6,291.3 L948.6,292.2 L948.7,293.1 L948.7,294.0 L948.8,294.9 L948.9,295.7 L949.1,295.6 L949.4,294.7 L949.5,293.8 L949.7,292.9 L949.9,292.1 L950.0,291.2 L950.2,290.3 L950.4,289.4 L950.5,288.5 L950.7,287.6 L950.8,286.7 L951.0,285.8 L951.1,285.0 L951.3,284.1 L951.5,283.2 L951.6,282.3 L951.8,281.4 L951.9,280.5 L952.1,279.6 L952.2,278.8 L952.4,277.9 L952.5,277.0 L952.6,276.1 L952.8,275.2 L952.9,274.3 L952.9,273.4 L953.0,272.5 L953.0,271.6 L953.1,270.7 L953.1,269.8 L953.2,268.9 L953.2,268.0 L953.3,267.1 L953.3,266.2 L953.4,265.3 L953.4,264.4 L953.5,263.5 L953.6,262.6 L953.6,261.7 L953.7,260.8 L953.8,259.9 L953.8,259.0 L953.9,258.1 L954.0,257.2 L954.1,256.3 L954.2,255.4 L954.2,254.5 L954.3,253.6 L954.4,252.7 L954.5,251.8 L954.6,251.0 L954.7,250.1 L954.8,249.2 L955.0,248.3 L955.1,247.4 L955.2,246.5 L955.3,245.6 L955.4,244.7 L955.5,243.8 L955.6,242.9 L955.7,242.0 L955.8,241.1 L955.9,240.2 L956.0,239.3 L956.2,238.4 L956.3,237.5 L956.4,236.7 L956.5,235.8 L956.6,234.9 L956.7,234.0 L956.8,233.1 L956.9,232.2 L957.0,231.3 L957.1,230.4 L957.2,229.5 L957.3,228.6 L957.4,227.7 L957.6,226.8 L957.7,225.9 L957.8,225.0 L958.1,224.2 L958.3,223.3 L959.2,223.6 L959.9,224.1 L960.5,224.8 L961.1,225.4 L961.6,226.1 L962.2,226.9 L962.7,227.6 L963.0,228.4 L963.3,229.3 L963.6,230.2 L963.9,231.0 L964.1,231.9 L964.3,232.7 L964.6,233.6 L964.8,234.5 L965.0,235.4 L965.2,236.2 L965.4,237.1 L965.6,238.0 L965.8,238.9 L965.9,239.8 L966.1,240.7 L966.2,241.6 L966.3,242.4 L966.4,243.3 L966.5,244.2 L966.6,245.1 L966.7,246.0 L966.8,246.9 L966.9,247.8 L967.0,248.7 L967.1,249.6 L967.1,250.5 L967.2,251.4 L967.3,252.3 L967.4,253.2 L967.5,254.1 L967.6,255.0 L967.7,255.9 L967.8,256.8 L967.9,257.7 L968.0,258.6 L968.1,259.5 L968.2,260.4 L968.3,261.3 L968.4,262.2 L968.5,263.0 L968.6,263.9 L968.7,264.8 L968.8,265.7 L968.9,266.6 L969.0,267.5 L969.0,268.4 L969.1,269.3 L969.2,270.2 L969.3,271.1 L969.4,272.0 L969.4,272.9 L969.5,273.8 L969.6,274.7 L969.7,275.6 L969.8,276.5 L969.9,277.4 L969.9,278.3 L970.1,279.2 L970.2,280.1 L970.3,281.0 L970.4,281.9 L970.5,282.7 L970.6,283.6 L970.8,284.5 L970.9,285.4 L971.0,286.3 L971.1,287.2 L971.2,288.1 L971.3,289.0 L971.4,289.9 L971.4,290.8 L971.5,291.7 L971.6,292.6 L971.6,293.5 L971.7,294.4 L971.8,295.3 L971.9,296.2 L972.2,297.0 L972.6,296.5 L972.9,295.7 L973.3,294.9 L973.6,294.0 L973.9,293.2 L974.2,292.3 L974.5,291.5 L974.7,290.6 L975.0,289.8 L975.3,288.9 L975.6,288.1 L975.8,287.2 L976.1,286.3 L976.4,285.5 L976.6,284.6 L976.9,283.8 L977.2,282.9 L977.4,282.0 L977.6,281.1 L977.8,280.3 L977.9,279.4 L978.1,278.5 L978.3,277.6 L978.4,276.7 L978.6,275.8 L978.8,275.0 L978.9,274.1 L979.2,273.2 L979.4,272.3 L979.8,271.5 L980.2,270.7 L980.6,269.9 L981.0,269.1 L981.5,268.4 L982.1,267.6 L982.7,267.1 L983.4,267.1 L983.9,267.9 L984.3,268.6 L984.8,269.4 L985.2,270.2 L985.5,271.1 L985.9,271.9 L986.2,272.7 L986.6,273.5 L986.9,274.4 L987.3,275.2 L987.7,276.0 L988.0,276.9 L988.3,277.7 L988.6,278.6 L988.9,279.4 L989.2,280.3 L989.5,281.1 L989.8,282.0 L990.0,282.8 L990.3,283.7 L990.6,284.5 L990.8,285.4 L991.1,286.3 L991.4,287.1 L991.6,288.0 L991.8,288.9 L992.1,289.7 L992.4,290.6 L992.6,291.4 L992.9,292.3 L993.3,293.1 L994.0,293.6 L994.8,293.6 L995.7,293.2 L996.3,292.6 L996.7,291.8 L996.9,291.0 L997.1,290.1 L997.2,289.2 L997.4,288.3 L997.5,287.4 L997.6,286.5 L997.8,285.6 L997.9,284.7 L998.0,283.8 L998.2,283.0 L998.4,282.1 L998.6,281.2 L998.9,280.3 L999.2,279.5 L999.4,278.6 L999.7,277.8 L1000.0,276.9 L1000.3,276.1 L1000.5,275.2 L1000.7,274.3 L1000.9,273.4 L1001.0,272.6 L1001.2,271.7 L1001.3,270.8 L1001.5,269.9 L1001.6,269.0 L1001.8,268.1 L1001.9,267.2 L1002.1,266.3 L1002.4,265.5 L1002.8,264.7 L1003.3,263.9 L1003.8,263.2 L1004.4,262.5 L1005.0,261.8 L1005.6,261.1 L1006.2,260.6 L1007.1,260.3 L1008.0,260.2 L1008.9,260.2 L1009.8,260.2 L1010.7,260.1 L1011.5,259.7 L1012.3,259.3 L1013.1,258.8 L1013.9,258.4 L1014.7,258.1 L1015.6,257.9 L1016.5,258.1 L1017.4,258.4 L1018.2,258.7 L1019.0,259.0 L1019.9,259.3 L1020.7,259.7 L1021.5,260.1 L1022.2,260.6 L1022.9,261.2 L1023.3,262.0 L1023.6,262.9 L1023.8,263.7 L1024.0,264.6 L1024.2,265.5 L1024.4,266.4 L1024.7,267.2 L1024.9,268.1 L1025.4,268.9 L1026.0,269.5 L1026.6,270.2 L1027.3,270.8 L1028.0,271.4 L1028.6,272.0 L1029.3,272.6 L1030.0,273.2 L1030.7,273.8 L1031.4,274.3 L1032.2,274.7 L1033.0,274.9 L1033.7,274.3 L1034.3,273.7 L1034.9,273.0 L1035.4,272.3 L1036.0,271.6 L1036.7,271.0 L1037.4,270.7 L1038.3,271.0 L1039.0,271.6 L1039.7,272.1 L1040.4,272.7 L1041.2,273.1 L1042.0,272.9 L1042.6,272.2 L1043.1,271.5 L1043.5,270.7 L1044.0,269.9 L1044.5,269.2 L1044.9,268.4 L1045.5,267.7 L1046.2,267.2 L1047.1,266.9 L1047.8,266.5 L1048.5,265.8 L1049.0,265.1 L1049.5,264.3 L1050.0,263.6 L1050.4,262.8 L1050.9,262.0 L1051.4,261.3 L1051.8,260.5 L1052.3,259.7 L1052.8,259.0 L1053.3,258.3 L1053.9,257.5 L1054.4,256.8 L1055.0,256.1 L1055.5,255.4 L1056.0,254.7 L1056.6,253.9 L1057.1,253.2 L1057.7,252.5 L1058.2,251.8 L1058.8,251.1 L1059.3,250.4 L1059.9,249.6 L1060.6,249.2 L1060.8,248.1 L1061.4,247.2 L1062.4,246.9 L1062.2,245.6 L1062.8,245.7 L1063.4,245.0 L1064.4,244.4 L1064.6,243.1 L1065.3,242.2 L1066.1,242.3 L1066.6,241.6 L1067.1,241.0 L1068.3,240.4 L1068.6,239.5 L1069.0,238.3 L1070.3,238.6 L1071.2,238.4 L1071.5,237.7 L1072.6,238.1 L1073.0,238.5 L1073.9,239.5 L1075.2,239.8 L1075.5,239.7 L1076.3,240.6 L1077.1,240.6 L1077.9,241.0 L1078.8,240.9 L1079.6,240.5 L1081.1,240.2 L1081.8,239.8 L1082.0,239.9 L1082.5,239.0 L1083.6,237.9 L1083.9,237.6 L1083.7,236.0 L1084.7,236.0 L1084.7,234.5 L1084.9,234.1 L1085.0,232.9 L1085.2,231.9 L1085.7,231.2 L1085.8,230.8 L1086.2,229.8 L1086.5,229.0 L1086.5,227.7 L1086.7,227.3 L1087.3,225.7 L1087.3,224.9 L1087.9,224.8 L1087.6,223.5 L1087.9,222.9 L1088.7,222.0 L1088.7,220.8 L1089.8,220.1 L1089.7,219.8 L1090.6,218.8 L1090.8,218.3 L1091.5,217.6 L1091.6,216.4 L1092.3,216.0 L1092.3,214.9 L1093.0,214.5 L1093.1,213.2 L1093.2,212.9 L1094.3,211.6 L1094.0,211.0 L1094.3,210.2 L1095.4,209.4 L1095.7,208.1 L1095.5,207.1 L1096.1,206.2 L1096.8,206.3 L1096.9,204.8 L1097.7,204.7 L1098.7,203.7 L1099.1,203.0 L1099.7,203.0 L1100.0,203.1 L1101.0,203.3 L1101.9,204.7 L1102.4,204.7 L1102.8,205.9 L1103.3,206.8 L1103.9,207.2 L1103.8,208.4 L1104.4,208.3 L1105.5,209.2 L1105.9,210.5 L1106.7,211.2 L1106.8,211.6 L1107.6,212.1 L1108.0,212.7 L1108.7,214.1 L1108.6,214.3 L1109.2,215.6 L1109.8,216.2 L1109.3,217.3 L1109.8,217.7 L1110.1,219.0 L1110.3,220.1 L1110.8,220.5 L1110.9,221.5 L1111.5,222.0 L1111.8,223.2 L1112.4,222.5 L1113.4,221.3 L1113.7,221.4 L1114.1,220.7 L1114.7,219.7 L1115.7,219.2 L1116.3,218.5 L1116.6,217.7 L1116.8,217.0 L1117.4,215.4 L1118.2,214.8 L1118.1,214.5 L1118.6,213.8 L1119.0,212.4 L1119.5,211.9 L1119.7,210.9 L1120.1,210.7 L1120.4,209.4 L1121.0,208.8 L1121.1,207.9 L1121.5,206.8 L1121.9,206.6 L1122.4,205.6 L1122.7,204.2 L1123.2,203.5 L1123.2,202.5 L1123.6,202.5 L1124.3,201.0 L1124.9,201.0 L1125.8,199.6 L1125.5,199.1 L1126.7,198.1 L1126.7,197.8 L1127.6,197.1 L1128.6,197.1 L1129.5,196.6 L1130.0,196.5 L1131.3,197.1 L1131.6,196.7 L1132.7,197.5 L1134.1,197.2 L1134.8,198.2 L1135.4,198.5 L1136.0,198.8 L1137.0,199.0 L1137.8,198.8 L1139.1,199.2 L1139.4,200.0 L1140.5,198.4 L1141.1,198.0 L1141.1,197.0 L1142.0,196.7 L1142.6,196.0 L1142.6,194.7 L1143.0,193.9 L1143.5,193.3 L1144.0,192.8 L1144.4,191.8 L1144.7,190.9 L1145.4,189.9 L1145.3,189.8 L1146.2,189.1 L1146.2,187.7 L1146.2,187.5 L1146.6,185.9 L1147.2,185.3 L1147.7,184.5 L1147.5,184.1 L1148.4,182.5 L1148.0,182.2 L1148.9,180.8 L1148.6,179.9 L1149.2,178.9 L1149.7,178.2 L1149.6,177.2 L1150.0,177.2 L1150.1,175.5 L1151.0,175.5 L1151.1,174.4 L1151.6,173.1 L1151.8,172.5 L1152.5,171.9 L1152.8,171.2 L1153.2,170.3 L1154.0,169.3 L1154.6,168.8 L1155.2,168.6 L1155.7,168.6 L1157.3,169.2 L1157.4,168.8 L1158.5,169.3 L1159.6,169.9 L1160.2,170.3 L1161.0,170.6 L1161.9,170.9 L1162.8,171.0 L1163.5,170.8 L1164.1,170.1 L1164.5,169.3 L1164.9,168.5 L1165.2,167.6 L1165.5,166.8 L1165.8,165.9 L1166.1,165.1 L1166.4,164.2 L1166.7,163.4 L1166.9,162.5 L1167.2,161.6 L1167.4,160.8 L1167.6,159.9 L1167.8,159.0 L1168.0,158.2 L1168.2,157.3 L1168.4,156.4 L1168.6,155.5 L1168.8,154.6 L1169.0,153.8 L1169.2,152.9 L1169.4,152.0 L1169.6,151.1 L1169.8,150.2 L1170.0,149.4 L1170.2,148.5 L1170.4,147.6 L1170.6,146.7 L1170.8,145.8 L1171.0,145.0 L1171.2,144.1 L1171.4,143.2 L1171.6,142.3 L1171.8,141.5 L1172.0,140.6 L1172.2,139.7 L1172.4,138.8 L1172.6,137.9 L1172.7,137.1 L1172.9,136.2 L1173.1,135.3 L1173.3,134.4 L1173.4,133.5 L1173.5,132.6 L1173.7,131.7 L1173.8,130.8 L1173.9,129.9 L1173.9,129.1 L1174.1,128.2 L1174.2,127.3 L1174.3,126.4 L1174.4,125.5 L1174.6,124.6 L1174.8,123.7 L1175.0,122.8 L1175.1,122.0 L1175.3,121.1 L1175.5,120.2 L1175.7,119.3 L1175.9,118.4 L1176.2,117.6 L1176.4,116.7 L1176.6,115.8 L1177.1,115.1 L1177.7,114.4 L1178.5,114.0 L1179.4,113.8 L1180.1,114.3 L1180.8,114.9 L1181.4,115.6 L1181.9,116.3 L1182.4,117.1 L1182.7,117.9 L1183.1,118.7 L1183.4,119.6 L1183.8,120.4 L1184.1,121.2 L1184.4,122.1 L1184.7,122.9 L1185.0,123.8 L1185.3,124.6 L1185.6,125.5 L1185.7,126.4 L1185.9,127.3 L1186.0,128.2 L1186.1,129.1 L1186.2,130.0 L1186.3,130.9 L1186.3,131.8 L1186.4,132.7 L1186.5,133.6 L1186.6,134.4 L1186.7,135.3 L1186.8,136.2 L1186.9,137.1 L1187.0,138.0 L1187.1,138.9 L1187.2,139.8 L1187.2,140.7 L1187.3,141.6 L1187.4,142.5 L1187.5,143.4 L1187.6,144.3 L1187.8,145.2 L1187.9,146.1 L1188.0,147.0 L1188.1,147.9 L1188.3,148.8 L1188.4,149.6 L1188.5,150.5 L1188.7,151.4 L1188.8,152.3 L1188.9,153.2 L1189.1,154.1 L1189.2,155.0 L1189.3,155.9 L1189.5,156.8 L1189.6,157.7 L1189.7,158.6 L1189.8,159.4 L1190.0,160.3 L1190.1,161.2 L1190.2,162.1 L1190.3,163.0 L1190.5,163.9 L1190.6,164.8 L1190.7,165.7 L1190.8,166.6 L1191.0,167.5 L1191.1,168.4 L1191.2,169.3 L1191.3,170.2 L1191.4,171.0 L1191.6,171.9 L1191.7,172.8 L1191.9,173.7 L1192.0,174.6 L1192.2,175.5 L1192.4,176.3 L1192.7,177.2 L1193.1,178.0 L1193.4,178.9 L1193.7,179.7 L1194.1,180.5 L1194.5,181.3 L1194.9,182.2 L1195.3,183.0 L1195.7,183.8 L1196.1,184.6 L1196.5,185.4 L1196.9,186.2 L1197.4,186.9 L1197.8,187.7 L1198.3,188.5 L1198.8,189.2 L1199.5,189.9 L1200.0,189.4 L1200.5,188.7 L1200.9,187.8 L1201.2,187.0 L1201.5,186.2 L1201.8,185.3 L1202.1,184.5 L1202.4,183.6 L1202.7,182.8 L1203.0,181.9 L1203.3,181.1 L1203.5,180.2 L1203.8,179.3 L1204.0,178.5 L1204.2,177.6 L1204.4,176.7 L1204.6,175.8 L1204.8,175.0 L1205.0,174.1 L1205.2,173.2 L1205.4,172.3 L1205.6,171.4 L1205.8,170.6 L1206.0,169.7 L1206.2,168.8 L1206.4,167.9 L1206.6,167.0 L1206.7,166.2 L1206.9,165.3 L1207.1,164.4 L1207.3,163.5 L1207.5,162.6 L1207.7,161.8 L1207.8,160.9 L1208.0,160.0 L1208.2,159.1 L1208.4,158.2 L1208.6,157.3 L1208.7,156.5 L1208.9,155.6 L1209.1,154.7 L1209.3,153.8 L1209.4,152.9 L1209.6,152.0 L1209.8,151.2 L1209.9,150.3 L1210.1,149.4 L1210.2,148.5 L1210.3,147.6 L1210.4,146.7 L1210.6,145.8 L1210.7,144.9 L1210.8,144.0 L1210.9,143.1 L1211.0,142.2 L1211.1,141.3 L1211.3,140.5 L1211.5,139.6 L1211.7,138.7 L1212.0,137.9 L1212.3,137.0 L1212.7,136.2 L1213.1,135.4 L1213.4,134.6 L1213.8,133.8 L1214.3,133.0 L1214.7,132.2 L1215.3,131.5 L1215.8,131.5 L1216.1,132.3 L1216.4,133.2 L1216.6,134.0 L1216.8,134.9 L1217.0,135.8 L1217.2,136.7 L1217.3,137.6 L1217.5,138.4 L1217.7,139.3 L1217.8,140.2 L1217.9,141.1 L1218.0,142.0 L1218.1,142.9 L1218.1,143.8 L1218.2,144.7 L1218.2,145.6 L1218.3,146.5 L1218.4,147.4 L1218.5,148.3 L1218.7,149.2 L1218.9,150.0 L1219.4,150.8 L1220.0,151.5 L1220.5,152.2 L1221.1,152.9 L1221.7,153.6 L1222.3,154.2 L1223.0,154.8 L1223.7,155.4 L1224.4,156.0 L1225.1,156.4 L1225.9,156.4 L1226.5,155.8 L1227.0,155.0 L1227.5,154.3 L1227.9,153.5 L1228.2,152.7 L1228.6,151.8 L1229.0,151.0 L1229.4,150.2 L1229.8,149.4 L1230.1,148.6 L1230.5,147.8 L1230.9,146.9 L1231.3,146.1 L1231.6,145.3 L1232.0,144.5 L1232.3,143.6 L1232.7,142.8 L1233.0,142.0 L1233.4,141.1 L1233.8,140.3 L1234.1,139.5 L1234.5,138.7 L1234.9,137.9 L1235.3,137.1 L1235.7,136.3 L1236.1,135.4 L1236.5,134.6 L1236.9,133.8 L1237.3,133.0 L1237.7,132.2 L1238.1,131.4 L1238.6,130.6 L1239.0,129.9 L1239.4,129.1 L1239.9,128.3 L1240.0,127.7 L1241.2,125.7 L1241.3,125.5 L1241.6,125.2 L1242.1,123.8 L1242.5,125.2 L1243.3,122.4 L1243.4,121.7 L1244.3,121.6 L1244.9,119.9 L1245.2,121.4 L1246.3,120.8 L1246.5,119.0 L1247.6,119.1 L1247.8,117.2 L1248.5,116.6 L1249.4,115.8 L1250.1,116.9 L1250.3,116.0 L1251.2,113.2 L1252.0,113.1 L1252.7,113.5 L1253.6,113.2 L1254.0,112.5 L1255.3,111.7 L1255.6,110.3 L1256.6,110.2 L1257.6,112.1 L1258.0,110.9 L1259.2,109.7 L1260.1,109.1 L1260.5,108.1 L1261.6,108.0 L1262.5,109.8 L1263.6,108.0 L1264.3,108.2 L1264.7,106.6 L1265.7,107.8 L1266.1,105.3 L1266.7,105.0 L1267.4,103.7 L1268.1,103.3 L1269.1,103.6 L1269.9,105.3 L1270.1,106.6 L1270.7,105.4 L1271.5,106.2 L1272.2,106.7 L1272.7,108.6 L1273.1,110.5 L1273.7,109.8 L1274.6,108.9 L1275.1,111.7 L1275.9,110.9 L1276.9,110.8 L1277.2,113.1 L1278.6,111.0 L1279.6,111.0 L1279.9,113.3 L1281.2,113.0 L1281.7,111.8 L1282.5,112.5 L1283.2,112.5 L1284.2,114.1 L1284.5,114.2 L1285.5,113.9 L1286.2,114.6 L1287.3,116.3 L1288.0,113.9 L1288.7,113.2 L1289.5,112.4 L1289.9,113.7 L1290.2,114.2 L1291.3,114.2 L1291.0,113.7 L1291.9,115.0 L1292.1,116.0 L1291.9,116.7 L1292.3,117.9 L1292.7,118.7 L1292.9,120.6 L1293.5,119.7 L1293.2,120.7 L1294.1,123.4 L1294.2,122.4 L1295.3,123.6 L1296.4,123.4 L1297.4,123.1 L1297.7,124.1 L1299.0,121.9 L1299.3,120.9 L1300.6,122.2 L1301.2,122.5 L1301.6,123.3 L1301.9,124.2 L1302.2,125.1 L1302.4,125.9 L1302.5,126.8 L1302.7,127.7 L1302.9,128.6 L1303.0,129.5 L1303.2,130.4 L1303.3,131.3 L1303.4,132.1 L1303.5,133.0 L1303.6,133.9 L1303.6,134.8 L1303.7,135.7 L1303.7,136.6 L1303.8,137.5 L1303.8,138.4 L1303.9,139.3 L1303.9,140.2 L1304.0,141.1 L1304.1,142.0 L1304.1,142.9 L1304.2,143.8 L1304.3,144.7 L1304.4,145.6 L1304.4,146.5 L1304.5,147.4 L1304.6,148.3 L1304.7,149.2 L1304.7,150.1 L1304.8,151.0 L1304.9,151.9 L1304.9,152.8 L1305.0,153.7 L1305.1,154.6 L1305.1,155.5 L1305.2,156.4 L1305.2,157.3 L1305.3,158.2 L1305.4,159.1 L1305.4,160.0 L1305.5,160.9 L1305.6,161.8 L1305.7,162.7 L1305.7,163.6 L1305.8,164.5 L1305.9,165.4 L1306.0,166.3 L1306.1,167.2 L1306.3,168.1 L1306.4,168.9 L1306.7,169.4 L1306.9,168.5 L1307.1,167.7 L1307.2,166.8 L1307.4,165.9 L1307.5,165.0 L1307.7,164.1 L1307.8,163.2 L1307.9,162.3 L1308.1,161.4 L1308.2,160.5 L1308.3,159.6 L1308.5,158.8 L1308.6,157.9 L1308.7,157.0 L1308.8,156.1 L1309.0,155.2 L1309.1,154.3 L1309.2,153.4 L1309.3,152.5 L1309.4,151.6 L1309.6,150.7 L1309.7,149.8 L1309.8,148.9 L1309.9,148.0 L1310.0,147.2 L1310.1,146.3 L1310.2,145.4 L1310.3,144.5 L1310.4,143.6 L1310.5,142.7 L1310.6,141.8 L1310.7,140.9 L1310.8,140.0 L1310.9,139.1 L1311.0,138.2 L1311.1,137.3 L1311.1,136.4 L1311.2,135.5 L1311.3,134.6 L1311.3,133.7 L1311.4,132.8 L1311.5,131.9 L1311.6,131.0 L1311.6,130.1 L1311.7,129.2 L1311.8,128.3 L1311.8,127.4 L1311.9,126.5 L1312.0,125.6 L1312.0,124.7 L1312.1,123.8 L1312.2,122.9 L1312.3,122.0 L1312.3,121.1 L1312.4,120.2 L1312.5,119.3 L1312.5,118.4 L1312.6,117.5 L1312.7,116.7 L1312.7,115.8 L1312.8,114.9 L1312.9,114.0 L1312.9,113.1 L1313.0,112.2 L1313.1,111.3 L1313.2,110.4 L1313.2,109.5 L1313.3,108.6 L1313.4,107.7 L1313.4,106.8 L1313.5,105.9 L1313.6,105.0 L1313.7,104.1 L1313.7,103.2 L1313.8,102.3 L1313.9,101.4 L1314.0,100.5 L1314.0,99.6 L1314.1,98.7 L1314.2,97.8 L1314.3,96.9 L1314.4,96.0 L1314.5,95.1 L1314.6,94.2 L1314.7,93.3 L1314.8,92.4 L1314.9,91.5 L1315.0,90.6 L1315.2,89.8 L1315.3,88.9 L1315.4,88.0 L1315.5,87.1 L1315.6,86.2 L1315.7,85.3 L1315.8,84.4 L1315.9,83.5 L1316.0,82.6 L1316.1,81.7 L1316.3,80.8 L1316.4,79.9 L1316.5,79.0 L1316.6,78.1 L1316.7,77.2 L1316.8,76.3 L1316.9,75.5 L1317.1,74.6 L1317.2,73.7 L1317.3,72.8 L1317.4,71.9 L1317.6,71.0 L1317.7,70.1 L1317.8,69.2 L1318.0,68.3 L1318.1,67.4 L1318.2,66.5 L1318.4,65.7 L1318.5,64.8 L1318.7,63.9 L1318.8,63.0 L1319.0,62.1 L1319.2,61.2 L1319.4,60.4 L1319.6,59.5 L1319.8,58.6 L1320.1,57.7 L1320.3,56.9 L1320.6,56.0 L1320.8,55.1 L1321.0,54.3 L1321.3,53.4 L1321.5,52.5 L1321.8,51.7 L1322.1,50.8 L1322.4,50.0 L1322.7,49.1 L1323.1,48.3 L1323.4,47.5 L1323.8,46.6 L1324.1,45.8 L1324.5,45.0" stroke-dasharray="4.15 5.9"/>
<path d="M772.8,170.0 L772.9,170.9 L772.9,171.8 L773.0,172.7 L773.0,173.6 L773.1,174.5 L773.1,175.4 L773.2,176.3 L773.2,177.2 L773.3,178.1 L773.4,179.0 L773.4,179.9 L773.5,180.8 L773.5,181.7 L773.6,182.6 L773.6,183.5 L773.7,184.4 L773.7,185.3 L773.8,186.2 L773.9,187.1 L773.9,188.0 L774.0,188.9 L774.0,189.8 L774.1,190.7 L774.1,191.6 L774.2,192.5 L774.2,193.4 L774.3,194.3 L774.3,195.2 L774.4,196.1 L774.4,197.0 L774.5,197.9 L774.6,198.8 L774.6,199.7 L774.7,200.6 L774.7,201.5 L774.8,202.4 L774.8,203.3 L774.9,204.2 L774.9,205.1 L775.0,206.0 L775.0,206.9 L775.1,207.8 L775.1,208.7 L775.2,209.6 L775.3,210.5 L775.3,211.4 L775.4,212.3 L775.4,213.2 L775.5,214.1 L775.5,215.0 L775.6,215.9 L775.7,216.8 L775.7,217.7 L775.8,218.6 L775.8,219.5 L775.9,220.4 L776.0,221.2 L776.0,222.1 L776.1,223.0 L776.2,223.9 L776.2,224.8 L776.3,225.7 L776.4,226.6 L776.5,227.5 L776.5,228.4 L776.6,229.3 L776.7,230.2 L776.8,231.1 L776.8,232.0 L776.9,232.9 L777.0,233.8 L777.1,234.7 L777.1,235.6 L777.2,236.5 L777.3,237.4 L777.4,238.3 L777.4,239.2 L777.5,240.1 L777.6,241.0 L777.7,241.9 L777.8,242.8 L777.8,243.7 L777.9,244.6 L778.0,245.5 L778.1,246.4 L778.2,247.3 L778.3,248.2 L778.4,249.1 L778.5,250.0 L778.6,250.9 L778.7,251.8 L778.8,252.6 L779.0,253.5 L779.1,254.4 L779.3,255.3 L779.4,256.0 L779.6,255.1 L779.7,254.2 L779.9,253.3 L780.0,252.4 L780.1,251.6 L780.2,250.7 L780.3,249.8 L780.4,248.9 L780.5,248.0 L780.6,247.1 L780.7,246.2 L780.8,245.3 L780.9,244.4 L780.9,243.5 L781.0,242.6 L781.1,241.7 L781.2,240.8 L781.3,239.9 L781.4,239.0 L781.4,238.1 L781.5,237.2 L781.6,236.3 L781.7,235.4 L781.7,234.5 L781.8,233.6 L781.9,232.7 L782.0,231.8 L782.1,230.9 L782.1,230.0 L782.2,229.1 L782.3,228.2 L782.4,227.3 L782.5,226.4 L782.6,225.5 L782.7,224.6 L782.8,223.8 L782.9,222.9 L783.0,222.0 L783.1,221.1 L783.2,220.2 L783.3,219.3 L783.4,218.4 L783.5,217.5 L783.6,216.6 L783.7,215.7 L783.8,214.8 L783.9,213.9 L784.1,213.0 L784.2,212.1 L784.3,211.2 L784.4,210.3 L784.5,209.4 L784.6,208.6 L784.7,207.7 L784.8,206.8 L785.0,205.9 L785.1,205.0 L785.2,204.1 L785.3,203.2 L785.4,202.3 L785.6,201.4 L785.7,200.5 L785.8,199.6 L786.0,198.7 L786.1,197.8 L786.3,197.0 L786.6,196.1 L786.9,195.3 L787.3,194.5 L788.0,194.0 L788.6,194.6 L789.0,195.4 L789.3,196.2 L789.7,197.1 L790.0,197.9 L790.3,198.8 L790.5,199.6 L790.8,200.5 L791.1,201.3 L791.4,202.2 L791.6,203.0 L791.8,203.9 L792.0,204.8 L792.3,205.7 L792.5,206.6 L792.7,207.4 L792.8,208.3 L793.0,209.2 L793.2,210.1 L793.4,211.0 L793.6,211.8 L793.8,212.7 L794.0,213.6 L794.2,214.5 L794.4,215.4 L794.5,216.2 L794.7,217.1 L794.9,218.0 L795.1,218.9 L795.3,219.8 L795.5,220.6 L795.7,221.5 L795.9,222.4 L796.1,223.3 L796.3,224.2 L796.5,225.0 L796.7,225.9 L796.9,226.8 L797.1,227.7 L797.4,228.5 L797.6,229.4 L797.8,230.3 L798.1,231.1 L798.6,231.9 L799.0,231.7 L799.4,230.9 L799.7,230.1 L800.0,229.2 L800.3,228.3 L800.5,227.5 L800.8,226.6 L801.0,225.7 L801.2,224.9 L801.5,224.0 L801.7,223.1 L801.9,222.3 L802.2,221.4 L802.4,220.5 L802.6,219.6 L802.8,218.8 L803.0,217.9 L803.2,217.0 L803.4,216.1 L803.6,215.2 L803.7,214.4 L803.9,213.5 L804.1,212.6 L804.3,211.7 L804.4,210.8 L804.6,209.9 L804.8,209.1 L804.9,208.2 L805.1,207.3 L805.3,206.4 L805.4,205.5 L805.6,204.6 L805.8,203.7 L806.0,202.9 L806.1,202.0 L806.3,201.1 L806.5,200.2 L806.7,199.3 L806.8,198.4 L807.0,197.6 L807.2,196.7 L807.4,195.8 L807.6,194.9 L807.9,194.1 L808.1,193.2 L808.3,192.3 L808.5,191.4 L808.7,190.6 L809.0,189.7 L809.2,188.8 L809.4,188.0 L809.7,187.1 L809.9,186.2 L810.1,185.3 L810.4,184.5 L810.6,183.6 L810.9,182.7 L811.1,181.9 L811.4,181.0 L811.7,180.2 L812.0,179.3 L812.4,178.5 L812.9,177.8 L813.4,177.0 L814.0,176.4 L814.8,176.0 L815.4,176.6 L815.9,177.4 L816.3,178.2 L816.7,179.0 L817.1,179.8 L817.5,180.6 L817.8,181.4 L818.1,182.3 L818.5,183.1 L818.8,183.9 L819.1,184.8 L819.4,185.6 L819.6,186.5 L819.9,187.4 L820.1,188.3 L820.3,189.1 L820.5,190.0 L820.7,190.9 L820.9,191.8 L821.2,192.6 L821.4,193.5 L821.6,194.4 L821.8,195.3 L822.0,196.1 L822.2,197.0 L822.3,197.9 L822.5,198.8 L822.7,199.7 L822.9,200.5 L823.1,201.4 L823.3,202.3 L823.4,203.2 L823.6,204.1 L823.8,205.0 L823.9,205.9 L824.1,206.7 L824.2,207.6 L824.3,208.5 L824.4,209.4 L824.6,210.3 L824.7,211.2 L824.8,212.1 L824.9,213.0 L825.0,213.9 L825.2,214.8 L825.3,215.7 L825.4,216.6 L825.5,217.5 L825.6,218.4 L825.7,219.2 L825.8,220.1 L825.9,221.0 L826.0,221.9 L826.1,222.8 L826.2,223.7 L826.3,224.6 L826.4,225.5 L826.6,226.4 L826.7,227.3 L826.8,228.2 L826.9,229.1 L827.0,230.0 L827.1,230.9 L827.2,231.8 L827.2,232.7 L827.3,233.6 L827.4,234.5 L827.5,235.4 L827.5,236.3 L827.6,237.2 L827.7,238.1 L827.7,239.0 L827.8,239.9 L827.9,240.8 L827.9,241.7 L828.0,242.6 L828.1,243.5 L828.1,244.4 L828.2,245.2 L828.3,246.1 L828.3,247.0 L828.4,247.9 L828.4,248.8 L828.5,249.7 L828.6,250.6 L828.6,251.5 L828.7,252.4 L828.8,253.3 L828.8,254.2 L828.9,255.1 L829.0,256.0 L829.0,256.9 L829.1,257.8 L829.2,258.7 L829.3,259.6 L829.3,260.5 L829.4,261.4 L829.5,262.3 L829.7,263.2 L829.8,264.1 L829.9,265.0 L830.1,265.9 L830.2,265.4 L830.3,264.5 L830.4,263.6 L830.5,262.8 L830.7,261.9 L830.8,261.0 L830.9,260.1 L831.0,259.2 L831.1,258.3 L831.1,257.4 L831.2,256.5 L831.3,255.6 L831.4,254.7 L831.5,253.8 L831.6,252.9 L831.6,252.0 L831.7,251.1 L831.8,250.2 L831.9,249.3 L831.9,248.4 L832.0,247.5 L832.1,246.6 L832.2,245.7 L832.2,244.8 L832.3,243.9 L832.4,243.0 L832.5,242.1 L832.5,241.2 L832.6,240.3 L832.7,239.4 L832.7,238.5 L832.8,237.6 L832.9,236.7 L833.0,235.8 L833.0,234.9 L833.1,234.0 L833.2,233.1 L833.3,232.3 L833.4,231.4 L833.4,230.5 L833.5,229.6 L833.6,228.7 L833.7,227.8 L833.8,226.9 L833.9,226.0 L834.0,225.1 L834.1,224.2 L834.2,223.3 L834.3,222.4 L834.5,221.5 L834.6,220.6 L834.7,219.7 L834.9,218.8 L835.0,217.9 L835.1,217.1 L835.3,216.2 L835.4,215.3 L835.6,214.4 L835.7,213.5 L835.9,212.6 L836.0,211.7 L836.2,210.8 L836.4,210.0 L836.5,209.1 L836.7,208.2 L836.9,207.3 L837.0,206.4 L837.2,205.5 L837.5,204.7 L837.7,203.8 L837.9,202.9 L838.2,202.1 L838.5,201.2 L838.8,200.4 L839.1,199.5 L839.4,198.7 L839.7,197.8 L840.0,197.0 L840.4,196.1 L840.8,195.3 L841.3,194.6 L841.8,193.8 L842.3,193.1 L842.9,192.5 L843.7,192.0 L844.5,192.0 L845.1,192.7 L845.6,193.4 L846.2,194.1 L846.7,194.8 L847.1,195.6 L847.6,196.4 L848.0,197.2 L848.4,198.0 L848.8,198.8 L849.2,199.6 L849.5,200.4 L849.8,201.3 L850.0,202.2 L850.2,203.0 L850.5,203.9 L850.7,204.8 L850.9,205.7 L851.1,206.5 L851.3,207.4 L851.5,208.3 L851.7,209.2 L851.9,210.0 L852.1,210.9 L852.3,211.8 L852.5,212.7 L852.7,213.6 L852.9,214.4 L853.1,215.3 L853.3,216.2 L853.5,217.1 L853.7,218.0 L853.9,218.8 L854.1,219.7 L854.2,220.6 L854.4,221.5 L854.6,222.4 L854.7,223.3 L854.9,224.1 L855.1,225.0 L855.2,225.9 L855.4,226.8 L855.6,227.7 L855.7,228.6 L855.9,229.5 L856.0,230.4 L856.2,231.2 L856.4,232.1 L856.5,233.0 L856.7,233.9 L856.8,234.8 L857.0,235.7 L857.2,236.6 L857.4,237.4 L857.5,238.3 L857.7,239.2 L857.9,240.1 L858.1,241.0 L858.3,241.8 L858.5,242.7 L858.7,243.6 L858.9,244.5 L859.1,245.4 L859.3,246.2 L859.5,247.1 L859.7,248.0 L859.9,248.9 L860.0,249.8 L860.2,250.6 L860.4,251.5 L860.5,252.4 L860.7,253.3 L860.8,254.2 L860.9,255.1 L861.0,256.0 L861.2,256.9 L861.3,257.8 L861.4,258.7 L861.6,259.5 L861.7,260.4 L861.9,261.3 L862.1,262.2 L862.3,263.1 L862.6,263.9 L862.9,264.4 L863.2,263.6 L863.6,262.8 L863.9,261.9 L864.1,261.0 L864.4,260.2 L864.6,259.3 L864.8,258.4 L865.1,257.6 L865.3,256.7 L865.5,255.8 L865.7,255.0 L865.9,254.1 L866.2,253.2 L866.4,252.3 L866.6,251.4 L866.8,250.6 L867.0,249.7 L867.2,248.8 L867.4,247.9 L867.6,247.1 L867.7,246.2 L867.9,245.3 L868.1,244.4 L868.2,243.5 L868.4,242.6 L868.6,241.7 L868.7,240.9 L868.9,240.0 L869.0,239.1 L869.2,238.2 L869.3,237.3 L869.5,236.4 L869.6,235.5 L869.8,234.6 L870.0,233.8 L870.1,232.9 L870.3,232.0 L870.4,231.1 L870.6,230.2 L870.7,229.3 L870.9,228.4 L871.0,227.5 L871.2,226.6 L871.3,225.8 L871.4,224.9 L871.6,224.0 L871.7,223.1 L871.9,222.2 L872.0,221.3 L872.2,220.4 L872.3,219.5 L872.5,218.6 L872.6,217.8 L872.7,216.9 L872.9,216.0 L873.0,215.1 L873.2,214.2 L873.3,213.3 L873.5,212.4 L873.6,211.5 L873.8,210.6 L873.9,209.8 L874.1,208.9 L874.2,208.0 L874.4,207.1 L874.5,206.2 L874.7,205.3 L874.8,204.4 L875.0,203.5 L875.1,202.7 L875.3,201.8 L875.5,200.9 L875.6,200.0 L875.8,199.1 L876.0,198.2 L876.1,197.3 L876.3,196.5 L876.5,195.6 L876.6,194.7 L876.8,193.8 L877.0,192.9 L877.1,192.0 L877.3,191.1 L877.5,190.3 L877.7,189.4 L877.8,188.5 L878.0,187.6 L878.2,186.7 L878.4,185.8 L878.6,185.0 L878.7,184.1 L878.9,183.2 L879.1,182.3 L879.3,181.4 L879.6,180.6 L879.8,179.7 L880.1,178.8 L880.3,178.0 L880.6,177.1 L880.9,176.3 L881.2,175.4 L881.4,174.6 L881.7,173.7 L882.0,172.9 L882.3,172.0 L882.6,171.2 L883.0,170.3 L883.3,169.5 L883.6,168.6 L883.9,167.8 L884.3,167.0 L884.7,166.2 L885.1,165.4 L885.6,164.6 L886.2,163.9 L886.9,163.6 L887.6,164.1 L888.3,164.7 L889.0,165.3 L889.6,166.0 L890.1,166.7 L890.7,167.4 L891.2,168.1 L891.7,168.9 L892.1,169.7 L892.4,170.5 L892.8,171.4 L893.1,172.2 L893.5,173.0 L893.8,173.9 L894.1,174.7 L894.4,175.5 L894.8,176.4 L895.1,177.2 L895.4,178.1 L895.7,178.9 L896.0,179.8 L896.3,180.6 L896.6,181.5 L896.9,182.3 L897.2,183.2 L897.4,184.1 L897.6,184.9 L897.9,185.8 L898.1,186.7 L898.3,187.5 L898.6,188.4 L898.8,189.3 L899.0,190.2 L899.2,191.0 L899.4,191.9 L899.7,192.8 L899.9,193.7 L900.1,194.5 L900.3,195.4 L900.5,196.3 L900.7,197.2 L900.9,198.0 L901.2,198.9 L901.4,199.8 L901.6,200.7 L901.8,201.5 L902.0,202.4 L902.2,203.3 L902.4,204.2 L902.7,205.0 L902.9,205.9 L903.1,206.8 L903.3,207.6 L903.5,208.5 L903.7,209.4 L904.0,210.3 L904.2,211.1 L904.4,212.0 L904.6,212.9 L904.8,213.8 L905.1,214.6 L905.3,215.5 L905.5,216.4 L905.7,217.3 L905.9,218.1 L906.1,219.0 L906.4,219.9 L906.6,220.8 L906.8,221.6 L907.0,222.5 L907.2,223.4 L907.4,224.3 L907.6,225.1 L907.8,226.0 L908.0,226.9 L908.1,227.8 L908.3,228.7 L908.5,229.6 L908.6,230.5 L908.8,231.3 L909.0,232.2 L909.2,233.1 L909.3,234.0 L909.5,234.9 L909.8,235.7 L910.0,236.6 L910.4,237.4 L910.5,236.7 L910.6,235.8 L910.6,234.9 L910.6,234.0 L910.6,233.1 L910.7,232.2 L910.7,231.3 L910.7,230.4 L910.7,229.5 L910.7,228.6 L910.7,227.7 L910.7,226.8 L910.7,225.9 L910.7,225.0 L910.7,224.1 L910.7,223.2 L910.7,222.3 L910.7,221.4 L910.7,220.5 L910.7,219.6 L910.7,218.7 L910.7,217.8 L910.7,216.9 L910.7,216.0 L910.7,215.1 L910.7,214.2 L910.7,213.3 L910.7,212.4 L910.7,211.5 L910.7,210.6 L910.7,209.7 L910.7,208.8 L910.8,207.9 L910.8,207.0 L910.9,206.1 L910.9,205.2 L911.0,204.3 L911.0,203.4 L911.5,204.0 L911.9,204.7 L912.2,205.6 L912.5,206.4 L912.8,207.3 L913.0,208.1 L913.3,209.0 L913.5,209.9 L913.8,210.7 L914.0,211.6 L914.2,212.5 L914.5,213.4 L914.7,214.2 L915.0,215.1 L915.2,216.0 L915.5,216.8 L915.7,217.7 L916.0,218.5 L916.3,219.4 L916.6,220.2 L916.9,221.1 L917.2,221.9 L917.5,222.8 L917.8,223.7 L918.0,224.5 L918.3,225.4 L918.6,226.2 L918.9,227.1 L919.2,227.9 L919.5,228.7 L919.9,229.6 L920.2,230.4 L920.5,231.3 L920.8,232.1 L921.1,233.0 L921.5,233.8 L921.8,234.6 L922.3,235.4 L922.7,236.2 L923.1,237.0 L923.6,237.8 L924.1,238.5 L924.6,239.3 L925.0,240.0 L925.5,240.8 L926.0,241.5 L926.5,242.3 L927.0,243.0 L927.5,243.8 L928.0,244.6 L928.5,245.3 L929.0,246.1 L929.5,246.8 L930.0,247.6 L930.5,248.3 L931.1,248.9 L931.8,249.3 L932.6,248.8 L933.2,248.1 L933.8,247.4 L934.3,246.7 L934.7,245.9 L935.2,245.1 L935.6,244.3 L936.0,243.5 L936.3,242.7 L936.5,241.8 L936.8,240.9 L937.0,240.1 L937.3,239.2 L937.5,238.3 L937.7,237.5 L938.0,236.6 L938.2,235.7 L938.4,234.8 L938.6,234.0 L938.8,233.1 L939.0,232.2 L939.2,231.3 L939.5,230.5 L939.7,229.6 L939.9,228.7 L940.1,227.8 L940.3,227.0 L940.5,226.1 L940.7,225.2 L940.9,224.3 L941.0,223.4 L941.2,222.5 L941.4,221.7 L941.6,220.8 L941.8,219.9 L941.9,219.0 L942.1,218.1 L942.3,217.2 L942.4,216.4 L942.6,215.5 L942.8,214.6 L943.0,213.7 L943.1,212.8 L943.3,211.9 L943.5,211.1 L943.6,210.2 L943.8,209.3 L944.0,208.4 L944.2,207.5 L944.3,206.6 L944.5,205.8 L944.7,204.9 L944.9,204.0 L945.0,203.1 L945.2,202.2 L945.4,201.3 L945.6,200.5 L945.8,199.6 L946.0,198.7 L946.2,197.8 L946.4,196.9 L946.6,196.1 L946.8,195.2 L947.0,194.3 L947.2,193.4 L947.4,192.5 L947.6,191.7 L947.8,190.8 L948.0,189.9 L948.2,189.0 L948.4,188.2 L948.6,187.3 L948.9,186.4 L949.1,185.5 L949.3,184.7 L949.6,183.8 L949.9,183.0 L950.3,182.1 L950.6,181.3 L951.0,180.5 L951.3,179.7 L951.7,178.8 L952.1,178.0 L952.5,177.2 L952.9,176.4 L953.4,175.6 L953.8,174.9 L954.4,174.2 L955.0,173.6 L955.7,173.0 L956.4,172.4 L957.2,171.9 L957.9,171.4 L958.7,170.9 L959.5,170.5 L960.3,170.2 L961.2,170.0 L962.1,169.8 L963.0,169.7 L963.9,169.5 L964.7,169.3 L965.6,169.0 L966.4,168.6 L967.1,168.0 L967.8,167.5 L968.5,166.9 L969.1,166.3 L969.8,165.7 L970.4,165.0 L971.1,164.4 L971.7,163.7 L972.3,163.1 L972.9,162.4 L973.4,161.6 L973.8,160.9 L974.3,160.1 L974.7,159.3 L975.2,158.5 L975.6,157.7 L976.0,156.9 L976.4,156.1 L976.9,155.3 L977.3,154.6 L977.8,153.8 L978.3,153.0 L978.9,152.4 L979.5,151.7 L980.1,151.1 L980.8,150.4 L981.5,149.9 L982.2,149.3 L982.9,148.8 L983.7,148.4 L984.6,148.5 L985.4,148.8 L986.4,150.8 L986.9,148.7 L987.3,150.7 L988.6,151.0 L988.9,150.2 L989.7,152.7 L990.1,153.1 L990.4,153.4 L991.0,155.9 L991.3,154.0 L991.9,156.4 L991.9,156.2 L993.0,157.7 L993.1,158.1 L993.2,160.0 L993.1,161.5 L993.8,159.8 L994.0,162.0 L993.5,163.7 L993.8,163.1 L993.9,164.2 L994.2,167.0 L994.8,165.2 L995.1,167.6 L995.0,168.9 L995.1,169.6 L995.5,168.6 L995.8,172.3 L995.8,170.2 L996.0,171.1 L996.3,172.4 L996.6,170.0 L996.8,169.9 L996.8,170.5 L997.6,168.9 L997.4,168.1 L997.7,168.3 L997.7,164.8 L998.2,166.7 L998.0,164.8 L999.0,164.8 L999.5,163.4 L999.3,166.9 L999.9,166.2 L1000.2,166.5 L1001.1,166.4 L1001.2,164.8 L1001.0,165.7 L1001.9,164.7 L1002.2,162.1 L1001.9,160.8 L1002.5,160.5 L1002.3,161.5 L1003.1,158.5 L1003.3,158.3 L1003.6,156.7 L1004.4,156.8 L1005.1,157.6 L1005.3,155.2 L1006.6,153.3 L1006.9,154.6 L1007.6,154.5 L1008.7,152.6 L1009.5,151.4 L1009.9,152.7 L1010.5,153.2 L1011.5,152.1 L1012.4,151.7 L1013.4,152.9 L1014.1,150.2 L1014.9,154.1 L1015.5,151.6 L1016.4,152.0 L1017.3,154.0 L1017.8,154.1 L1019.2,153.9 L1020.1,154.9 L1020.6,150.9 L1021.2,151.1 L1022.5,150.8 L1022.7,151.8 L1023.6,150.7 L1024.9,151.6 L1025.7,150.3 L1026.2,148.4 L1026.8,151.2 L1028.1,149.7 L1028.7,148.9 L1030.0,148.2 L1030.2,150.2 L1031.4,148.9 L1032.0,146.5 L1033.4,147.4 L1034.3,149.4 L1034.8,146.1 L1035.7,145.3 L1036.7,144.8 L1037.6,144.5 L1037.8,144.0 L1038.8,145.4 L1040.0,146.9 L1040.5,146.8 L1041.5,146.4 L1042.8,144.1 L1043.3,145.1 L1044.2,142.5 L1044.9,145.2 L1045.7,143.1 L1047.2,144.5 L1048.0,143.2 L1048.3,144.2 L1049.9,144.3 L1050.7,145.1 L1051.1,144.3 L1052.4,144.0 L1052.6,145.9 L1053.5,147.1 L1054.7,146.1 L1055.1,149.0 L1055.6,147.6 L1056.2,148.0 L1056.7,148.7 L1057.3,151.7 L1058.1,149.6 L1058.8,151.6 L1059.1,151.8 L1060.3,154.2 L1060.6,150.9 L1061.4,155.1 L1062.8,153.1 L1063.2,155.3 L1063.8,153.3 L1064.8,155.8 L1065.4,154.6 L1066.2,154.5 L1067.7,154.8 L1067.8,155.1 L1069.2,158.4 L1069.8,156.7 L1070.6,156.2 L1072.0,158.3 L1072.6,157.2 L1073.1,157.8 L1074.3,156.2 L1075.7,157.4 L1076.6,156.9 L1077.4,156.6 L1078.2,156.7 L1078.9,156.6 L1079.4,157.0 L1081.0,158.4 L1081.6,158.2 L1082.5,157.1 L1083.0,158.0 L1084.0,156.1 L1085.1,157.3 L1086.5,157.7 L1087.1,156.2 L1088.0,156.8 L1088.6,156.5 L1089.8,155.2 L1090.2,157.1 L1091.1,155.3 L1092.2,155.5 L1092.8,153.8 L1094.2,154.8 L1094.5,154.3 L1095.5,155.1 L1096.8,152.7 L1097.1,154.5 L1098.2,152.4 L1099.1,153.8 L1099.7,153.3 L1100.4,152.5 L1101.5,151.6 L1102.6,151.5 L1103.1,151.8 L1104.2,150.7 L1104.7,149.6 L1105.6,150.9 L1106.9,150.6 L1107.0,149.2 L1108.6,148.7 L1108.7,150.2 L1110.2,148.4 L1110.7,147.4 L1111.8,149.1 L1112.2,147.2 L1113.0,147.3 L1113.8,147.4 L1114.6,146.9 L1115.7,145.9 L1116.3,145.6 L1117.3,145.9 L1118.6,144.6 L1119.3,146.2 L1119.9,144.2 L1120.4,143.6 L1121.3,143.3 L1122.9,143.0 L1123.3,144.7 L1124.3,143.2 L1125.3,144.1 L1126.1,144.3 L1127.1,142.6 L1127.8,144.2 L1128.6,145.0 L1129.4,143.7 L1130.6,145.9 L1131.5,145.2 L1131.9,145.5 L1132.4,147.3 L1133.6,145.8 L1133.7,148.5 L1134.7,147.4 L1134.8,148.9 L1135.7,148.3 L1136.0,149.8 L1136.3,150.2 L1136.9,152.3 L1137.7,153.5 L1138.4,152.1 L1138.9,152.5 L1139.4,154.8 L1140.1,155.1 L1140.8,155.5 L1141.5,155.1 L1142.1,154.4 L1142.6,153.6 L1143.0,152.9 L1143.5,152.1 L1143.9,151.3 L1144.3,150.5 L1144.7,149.7 L1145.1,148.9 L1145.5,148.1 L1145.8,147.2 L1146.0,146.4 L1146.3,145.5 L1146.6,144.6 L1146.8,143.8 L1147.1,142.9 L1147.3,142.0 L1147.5,141.2 L1147.8,140.3 L1148.0,139.4 L1148.3,138.6 L1148.5,137.7 L1148.7,136.8 L1149.0,135.9 L1149.2,135.1 L1149.4,134.2 L1149.7,133.3 L1149.9,132.5 L1150.2,131.6 L1150.5,130.8 L1150.7,129.9 L1151.0,129.0 L1151.3,128.2 L1151.6,127.3 L1151.9,126.5 L1152.1,125.6 L1152.4,124.8 L1152.7,123.9 L1153.0,123.1 L1153.3,122.2 L1153.6,121.4 L1153.9,120.5 L1154.2,119.6 L1154.4,118.8 L1154.7,117.9 L1155.0,117.1 L1155.3,116.2 L1155.6,115.4 L1155.9,114.5 L1156.2,113.7 L1156.5,112.8 L1156.8,112.0 L1157.1,111.1 L1157.5,110.3 L1157.8,109.5 L1158.4,108.8 L1159.0,108.1 L1159.6,107.5 L1160.3,106.9 L1161.0,106.3 L1161.8,105.9 L1162.7,105.6 L1163.3,106.2 L1163.9,106.8 L1164.5,107.5 L1165.0,108.3 L1165.4,109.1 L1165.9,109.9 L1166.3,110.7 L1166.7,111.5 L1166.9,112.3 L1167.2,113.2 L1167.5,114.1 L1167.7,114.9 L1167.9,115.8 L1168.2,116.7 L1168.4,117.5 L1168.6,118.4 L1168.8,119.3 L1169.0,120.2 L1169.2,121.0 L1169.4,121.9 L1169.6,122.8 L1169.8,123.7 L1170.0,124.6 L1170.2,125.4 L1170.3,126.3 L1170.4,127.2 L1170.6,128.1 L1170.7,129.0 L1170.8,129.9 L1170.9,130.8 L1171.0,131.7 L1171.2,132.6 L1171.3,133.5 L1171.5,134.4 L1171.6,135.2 L1171.7,136.1 L1171.9,137.0 L1172.0,137.9 L1172.2,138.8 L1172.3,139.7 L1172.5,140.6 L1172.6,141.5 L1172.8,142.4 L1172.9,143.2 L1173.1,144.1 L1173.2,145.0 L1173.4,145.9 L1173.5,146.8 L1173.6,147.7 L1173.8,148.6 L1173.9,149.5 L1174.1,150.4 L1174.2,151.2 L1174.4,152.1 L1174.5,153.0 L1174.7,153.9 L1174.8,154.8 L1175.0,155.7 L1175.1,156.6 L1175.3,157.5 L1175.4,158.4 L1175.6,159.2 L1175.7,160.1 L1175.9,161.0 L1176.0,161.9 L1176.2,162.8 L1176.3,163.7 L1176.5,164.6 L1176.6,165.5 L1176.8,166.3 L1176.9,167.2 L1177.1,168.1 L1177.2,169.0 L1177.4,169.9 L1177.5,170.8 L1177.7,171.7 L1177.9,172.6 L1178.1,173.4 L1178.2,174.3 L1178.4,175.2 L1178.6,176.1 L1178.8,177.0 L1179.0,177.8 L1179.3,178.7 L1179.6,179.5 L1180.1,179.7 L1180.4,178.9 L1180.6,178.0 L1180.8,177.1 L1181.0,176.2 L1181.3,175.4 L1181.4,174.5 L1181.6,173.6 L1181.8,172.7 L1182.0,171.8 L1182.2,171.0 L1182.4,170.1 L1182.5,169.2 L1182.7,168.3 L1182.9,167.4 L1183.1,166.6 L1183.3,165.7 L1183.5,164.8 L1183.6,163.9 L1183.8,163.0 L1184.0,162.1 L1184.1,161.2 L1184.3,160.4 L1184.4,159.5 L1184.6,158.6 L1184.7,157.7 L1184.9,156.8 L1185.1,155.9 L1185.2,155.0 L1185.4,154.2 L1185.6,153.3 L1185.7,152.4 L1185.9,151.5 L1186.1,150.6 L1186.3,149.7 L1186.5,148.9 L1186.7,148.0 L1187.0,147.1 L1187.3,146.3 L1187.7,145.5 L1188.1,144.7 L1188.5,143.9 L1188.9,143.1 L1189.4,142.3 L1190.0,141.6 L1190.7,141.1 L1191.1,141.9 L1191.5,142.7 L1191.9,143.5 L1192.2,144.4 L1192.4,145.2 L1192.7,146.1 L1193.0,147.0 L1193.3,147.8 L1193.5,148.7 L1193.8,149.5 L1194.1,150.4 L1194.5,151.2 L1194.8,152.1 L1195.1,152.9 L1195.5,153.7 L1195.8,154.5 L1196.0,155.2 L1196.5,155.5 L1197.1,157.4 L1197.6,158.2 L1197.9,158.5 L1198.2,158.8 L1198.5,159.6 L1198.6,161.4 L1199.6,162.2 L1199.8,163.2 L1200.6,163.1 L1201.1,164.1 L1201.6,165.0 L1202.3,165.8 L1202.4,166.8 L1203.3,166.5 L1203.6,167.6 L1204.5,168.6 L1205.3,169.2 L1206.3,168.3 L1206.7,168.1 L1207.8,167.8 L1208.6,167.1 L1208.8,166.5 L1209.4,167.0 L1210.7,166.0 L1211.0,166.2 L1211.6,166.5 L1212.2,166.5 L1212.9,167.9 L1213.2,168.4 L1213.5,169.2 L1214.0,170.4 L1214.9,169.0 L1214.8,168.4 L1214.9,167.0 L1215.4,165.7 L1215.5,165.2 L1215.4,164.1 L1215.7,164.5 L1216.5,163.6 L1216.6,162.1 L1216.2,161.8 L1216.6,160.0 L1216.8,160.0 L1217.2,158.2 L1217.8,157.8 L1217.8,156.6 L1218.1,156.0 L1219.6,156.3 L1219.9,155.8 L1221.0,156.7 L1222.1,157.1 L1222.9,156.6 L1223.2,154.8 L1223.7,153.7 L1223.9,153.6 L1223.7,153.4 L1224.6,152.2 L1224.4,151.6 L1224.6,150.4 L1224.8,149.1 L1225.3,148.1 L1225.1,147.8 L1225.7,147.0 L1225.5,146.2 L1225.8,144.3 L1226.0,143.6 L1225.6,142.3 L1226.1,142.1 L1226.3,141.2 L1226.4,140.4 L1226.6,139.5 L1226.7,138.6 L1226.9,137.7 L1227.0,136.8 L1227.2,135.9 L1227.3,135.0 L1227.4,134.1 L1227.6,133.2 L1227.7,132.4 L1227.8,131.5 L1227.9,130.6 L1228.1,129.7 L1228.3,127.5 L1228.1,128.4 L1228.4,128.0 L1228.9,125.9 L1228.8,125.1 L1228.8,123.0 L1228.9,121.8 L1229.1,121.7 L1229.2,121.5 L1230.1,119.4 L1230.1,119.5 L1230.4,119.0 L1230.7,118.4 L1230.9,118.2 L1230.7,116.6 L1231.3,114.5 L1231.5,114.1 L1231.5,113.7 L1232.3,113.3 L1233.2,112.1 L1233.7,111.3 L1233.6,112.5 L1234.7,110.9 L1234.7,111.2 L1235.4,107.8 L1236.0,108.9 L1236.8,107.6 L1237.2,106.3 L1237.9,104.7 L1238.4,107.1 L1239.5,103.2 L1240.3,105.5 L1240.6,103.2 L1240.9,104.3 L1241.6,100.7 L1242.1,100.1 L1243.5,100.7 L1243.8,100.9 L1244.2,100.5 L1245.4,99.0 L1246.1,100.1 L1247.3,99.2 L1248.0,98.4 L1249.0,98.3 L1250.1,99.0 L1250.5,101.9 L1250.8,100.4 L1251.5,102.2 L1252.1,101.4 L1252.2,105.3 L1253.2,105.7 L1253.5,103.9 L1253.6,104.8 L1254.6,108.0 L1255.0,106.6 L1255.4,106.7 L1255.9,109.2 L1256.4,108.3 L1256.6,108.8 L1257.0,111.5 L1258.1,113.5 L1258.3,111.4 L1259.0,114.6 L1259.4,114.6 L1260.0,116.2 L1260.3,115.1 L1260.5,116.0 L1260.9,117.6 L1261.2,117.1 L1262.3,118.0 L1262.7,117.1 L1262.9,119.0 L1263.9,116.9 L1264.5,114.9 L1264.9,116.9 L1265.2,113.6 L1265.6,112.2 L1266.4,113.1 L1266.8,112.9 L1267.2,112.5 L1268.4,113.5 L1269.1,113.2 L1269.2,115.4 L1269.8,115.3 L1270.4,114.5 L1270.6,117.8 L1271.7,115.6 L1271.6,117.4 L1272.5,119.0 L1272.7,121.1 L1273.2,119.6 L1274.2,119.7 L1274.9,122.1 L1275.0,123.3 L1276.1,122.2 L1276.1,123.6 L1276.9,125.0 L1277.5,125.0 L1278.4,126.7 L1279.0,124.3 L1279.4,125.9 L1280.2,122.4 L1280.5,122.5 L1281.1,123.6 L1281.3,121.6 L1281.6,122.2 L1282.0,120.3 L1282.7,120.1 L1283.1,117.4 L1283.4,118.0 L1284.1,118.6 L1284.1,118.8 L1285.1,120.2 L1285.6,121.7 L1285.8,123.5 L1286.3,122.9 L1286.4,121.9 L1286.8,122.0 L1286.9,120.9 L1287.1,119.8 L1287.5,119.6 L1287.9,118.3 L1288.3,119.1 L1288.5,117.0 L1288.2,117.7 L1288.9,114.7 L1289.1,116.3 L1289.0,112.3 L1289.3,113.2 L1289.6,110.5 L1289.5,110.0 L1289.4,111.2 L1289.7,109.4 L1290.3,107.9 L1290.8,106.0 L1290.9,108.1 L1291.3,106.6 L1292.2,103.6 L1292.8,104.2 L1293.7,104.6 L1293.9,103.8 L1294.2,104.7 L1294.4,107.6 L1294.6,109.4 L1295.0,108.2 L1295.3,108.0 L1295.3,110.4 L1295.7,112.4 L1295.7,113.2 L1296.7,114.1 L1296.6,113.8 L1297.1,112.7 L1297.7,109.5 L1297.8,110.8 L1297.8,110.9 L1298.0,108.3 L1298.0,106.6 L1298.4,107.9 L1297.9,106.6 L1298.4,105.0 L1298.3,102.1 L1298.4,102.7 L1299.1,101.8 L1299.1,102.1 L1299.0,102.0 L1299.4,99.5 L1299.8,98.4 L1300.0,98.1 L1300.2,96.9 L1300.4,96.1 L1300.7,95.2 L1301.1,94.4 L1301.4,93.5 L1301.8,92.8 L1302.3,92.4 L1302.5,93.3 L1302.8,94.2 L1302.9,95.0 L1303.1,95.9 L1303.3,96.8 L1303.4,97.7 L1303.5,98.6 L1303.7,99.5 L1303.8,100.4 L1303.9,101.3 L1304.1,102.2 L1304.2,103.1 L1304.3,103.9 L1304.5,104.8 L1304.6,105.7 L1304.7,106.6 L1304.8,107.5 L1305.0,108.4 L1305.1,109.3 L1305.2,110.2 L1305.3,111.1 L1305.4,112.0 L1305.6,112.9 L1305.7,113.8 L1305.8,114.7 L1305.9,115.5 L1306.0,116.4 L1306.1,117.3 L1306.2,118.2 L1306.3,119.1 L1306.4,120.0 L1306.6,120.9 L1306.7,121.8 L1306.7,122.7 L1306.8,123.6 L1306.9,124.5 L1306.9,125.4 L1306.9,126.3 L1307.0,127.2 L1307.0,128.1 L1307.0,129.0 L1307.1,129.9 L1307.1,130.8 L1307.1,131.7 L1307.2,132.6 L1307.2,133.5 L1307.3,134.4 L1307.3,135.3 L1307.4,136.2 L1307.4,137.1 L1307.5,138.0 L1307.6,138.9 L1307.6,139.8 L1307.7,140.7 L1307.7,141.6 L1307.8,142.5 L1307.9,143.4 L1307.9,144.3 L1308.0,145.2 L1308.0,146.1 L1308.1,147.0 L1308.1,147.9 L1308.2,148.8 L1308.3,149.7 L1308.3,150.6 L1308.4,151.5 L1308.5,152.4 L1308.5,153.3 L1308.6,154.2 L1308.6,155.1 L1308.7,156.0 L1308.8,156.9 L1308.9,157.8 L1308.9,158.7 L1309.0,159.6 L1309.1,160.5 L1309.2,161.4 L1309.3,162.3 L1309.4,163.1 L1309.5,164.0 L1309.6,164.7 L1309.7,163.8 L1309.9,162.9 L1310.0,162.0 L1310.1,161.1 L1310.2,160.2 L1310.3,159.3 L1310.4,158.4 L1310.4,157.5 L1310.5,156.6 L1310.6,155.7 L1310.7,154.8 L1310.7,153.9 L1310.8,153.0 L1310.9,152.1 L1310.9,151.2 L1311.0,150.3 L1311.1,149.4 L1311.1,148.5 L1311.2,147.6 L1311.3,146.7 L1311.3,145.8 L1311.4,144.9 L1311.5,144.0 L1311.5,143.1 L1311.6,142.2 L1311.7,141.3 L1311.7,140.4 L1311.8,139.5 L1311.9,138.6 L1311.9,137.7 L1312.0,136.8 L1312.0,135.9 L1312.1,135.1 L1312.2,134.2 L1312.2,133.3 L1312.3,132.4 L1312.3,131.5 L1312.4,130.6 L1312.4,129.7 L1312.5,128.8 L1312.6,127.9 L1312.6,127.0 L1312.7,126.1 L1312.7,125.2 L1312.8,124.3 L1312.8,123.4 L1312.9,122.5 L1312.9,121.6 L1313.0,120.7 L1313.0,119.8 L1313.1,118.9 L1313.1,118.0 L1313.2,117.1 L1313.2,116.2 L1313.3,115.3 L1313.3,114.4 L1313.3,113.5 L1313.4,112.6 L1313.4,111.7 L1313.5,110.8 L1313.5,109.9 L1313.5,109.0 L1313.6,108.1 L1313.6,107.2 L1313.6,106.3 L1313.7,105.4 L1313.7,104.5 L1313.7,103.6 L1313.8,102.7 L1313.8,101.8 L1313.8,100.9 L1313.8,100.0 L1313.9,99.1 L1313.9,98.2 L1314.0,97.3 L1314.0,96.4 L1314.1,95.5 L1314.1,94.6 L1314.2,93.7 L1314.2,92.8 L1314.3,91.9 L1314.3,91.0 L1314.4,90.1 L1314.5,89.2 L1314.7,88.3 L1314.8,87.4 L1315.0,86.5 L1315.1,85.6 L1315.3,84.7 L1315.4,83.9 L1315.6,83.0 L1315.8,82.1 L1316.0,81.2 L1316.2,80.3 L1316.4,79.4 L1316.6,78.6 L1316.8,77.7 L1317.0,76.8 L1317.2,75.9 L1317.4,75.1 L1317.6,74.2 L1317.8,73.3 L1318.1,72.5 L1318.4,71.6 L1318.8,70.8 L1319.1,69.9 L1319.5,69.1 L1319.9,68.3 L1320.4,67.6 L1321.0,66.9 L1321.6,67.2 L1322.1,67.9 L1322.5,68.7 L1322.9,69.5 L1323.2,70.4 L1323.6,71.2 L1324.0,72.0" stroke-linecap="butt"/>
</g>
<path d="M772.4,358.3 V344.9 M772.4,1.75 V15.1 M910.7,358.3 V344.9 M910.7,1.75 V15.1 M1048.95,358.3 V344.9 M1048.95,1.75 V15.1 M1187.2,358.3 V344.9 M1187.2,1.75 V15.1 M1325.5,358.3 V344.9 M1325.5,1.75 V15.1 M772.4,46.3 h13.4 M1325.5,46.3 h-13.4 M772.4,135.45 h13.4 M1325.5,135.45 h-13.4 M772.4,224.6 h13.4 M1325.5,224.6 h-13.4 M772.4,313.75 h13.4 M1325.5,313.75 h-13.4" stroke="#000" stroke-width="3.5" fill="none"/>
<path d="M770.1,1.75 H1327.8 M770.1,358.3 H1327.8" stroke="#000" stroke-width="3.65" fill="none"/>
<path d="M772.4,0 V360.1 M1325.5,0 V360.1" stroke="#000" stroke-width="4.55" fill="none"/>
<rect x="770.1" y="0" width="53.8" height="46.2" fill="#000"/>
<text x="775.1999999999999" y="32.8" font-size="37" style="fill:#fff;stroke:#fff">(b)</text>
<text x="772.4" y="398.8" font-size="37" text-anchor="middle">1.2</text>
<text x="910.7" y="398.8" font-size="37" text-anchor="middle">1.3</text>
<text x="1048.95" y="398.8" font-size="37" text-anchor="middle">1.4</text>
<text x="1187.2" y="398.8" font-size="37" text-anchor="middle">1.5</text>
<text x="1325.5" y="398.8" font-size="37" text-anchor="middle">1.6</text>
<clipPath id="cB"><rect x="983.7" y="30.3" width="302.0" height="25.2"/></clipPath>
<g clip-path="url(#cB)">
<rect x="980.7" y="27.3" width="308.0" height="31.2" fill="url(#bgB)"/>
<g filter="url(#bl3)">
<ellipse cx="1275" cy="44" rx="28" ry="11" fill="#12006a" opacity="0.85"/>
<ellipse cx="1030" cy="44" rx="14" ry="11" fill="#1e0078" opacity="0.5"/>
<ellipse cx="1135" cy="44" rx="10" ry="11" fill="#1e0078" opacity="0.5"/>
<ellipse cx="1175" cy="44" rx="30" ry="11" fill="#aa00b4" opacity="0.8"/>
<ellipse cx="1200" cy="44" rx="22" ry="11" fill="#aa00b4" opacity="0.6"/>
<ellipse cx="1060" cy="44" rx="30" ry="11" fill="#6400aa" opacity="0.45"/>
<ellipse cx="1000" cy="44" rx="22" ry="11" fill="#6400aa" opacity="0.45"/>
<ellipse cx="1237" cy="44" rx="12" ry="11" fill="#7800aa" opacity="0.5"/>
</g>
<g filter="url(#bl1)">
<rect x="992.8" y="38.0" width="11.8" height="12.2" fill="#f54b37" transform="rotate(-3 998.7 44.1)"/>
<rect x="1005.8" y="38.5" width="9.5" height="11.5" fill="#6e05a0"/>
<rect x="1017.7" y="38.0" width="11.2" height="12.5" fill="#f0463c"/>
<rect x="1043.1" y="39.5" width="11.3" height="11.5" fill="#e6375a"/>
<rect x="1055.0" y="40.0" width="10.6" height="11.0" fill="#ff6428"/>
<rect x="1067.4" y="37.8" width="10.7" height="13.7" fill="#0f0f28"/>
<rect x="1079.9" y="39.0" width="11.8" height="11.5" fill="#e12d64"/>
<rect x="1091.7" y="38.0" width="11.3" height="12.0" fill="#eb3c50"/>
<rect x="1104.1" y="39.5" width="11.3" height="11.0" fill="#960aaa"/>
<rect x="1117.8" y="39.5" width="11.2" height="11.0" fill="#c81e8c"/>
<rect x="1140.1" y="37.6" width="12.6" height="13.9" fill="#0a0a23"/>
<rect x="1154.5" y="38.5" width="14.5" height="14.0" fill="#ffbe28"/>
<rect x="1155.5" y="40.0" width="12.5" height="11.5" fill="#ffe632"/>
<rect x="1163.5" y="41.0" width="4.5" height="10.0" fill="#fff5b4"/>
<rect x="1165.5" y="37.5" width="16.5" height="15.7" fill="#ffc83c"/>
<rect x="1167.3" y="39.0" width="13.3" height="13.2" fill="#ffffff"/>
<rect x="1181.7" y="39.0" width="8.8" height="12.0" fill="#dc2850"/>
<rect x="1190.0" y="37.0" width="16.6" height="15.5" fill="#ffaa28"/>
<rect x="1192.0" y="38.6" width="13.0" height="12.4" fill="#ffffff"/>
<rect x="1206.2" y="37.6" width="11.4" height="10.7" fill="#dc2d64"/>
<rect x="1230.8" y="38.9" width="12.6" height="12.6" fill="#ff641e" transform="rotate(5 1237.1 45.2)"/>
<rect x="1244.6" y="39.0" width="11.4" height="11.0" fill="#5f08a0"/>
<rect x="1267.9" y="38.9" width="12.0" height="13.2" fill="#050a23"/>
</g></g>
<rect x="982.6500000000001" y="29.25" width="304.1" height="27.3" fill="none" stroke="#000" stroke-width="3.9"/>
<text x="111.5" y="58.9" font-size="37" text-anchor="end">0</text>
<text x="111.5" y="148.0" font-size="37" text-anchor="end">−20</text>
<text x="111.5" y="237.2" font-size="37" text-anchor="end">−40</text>
<text x="111.5" y="326.4" font-size="37" text-anchor="end">−60</text>
<text x="402.6" y="447.3" font-size="37.67" text-anchor="middle">wavelength [µm]</text>
<text x="1048.5" y="447.3" font-size="37.67" text-anchor="middle">wavelength [µm]</text>
<text transform="translate(26.6,179.3) rotate(-90)" font-size="37.67" text-anchor="middle">spectral power [dB]</text>
</svg></body></html>
